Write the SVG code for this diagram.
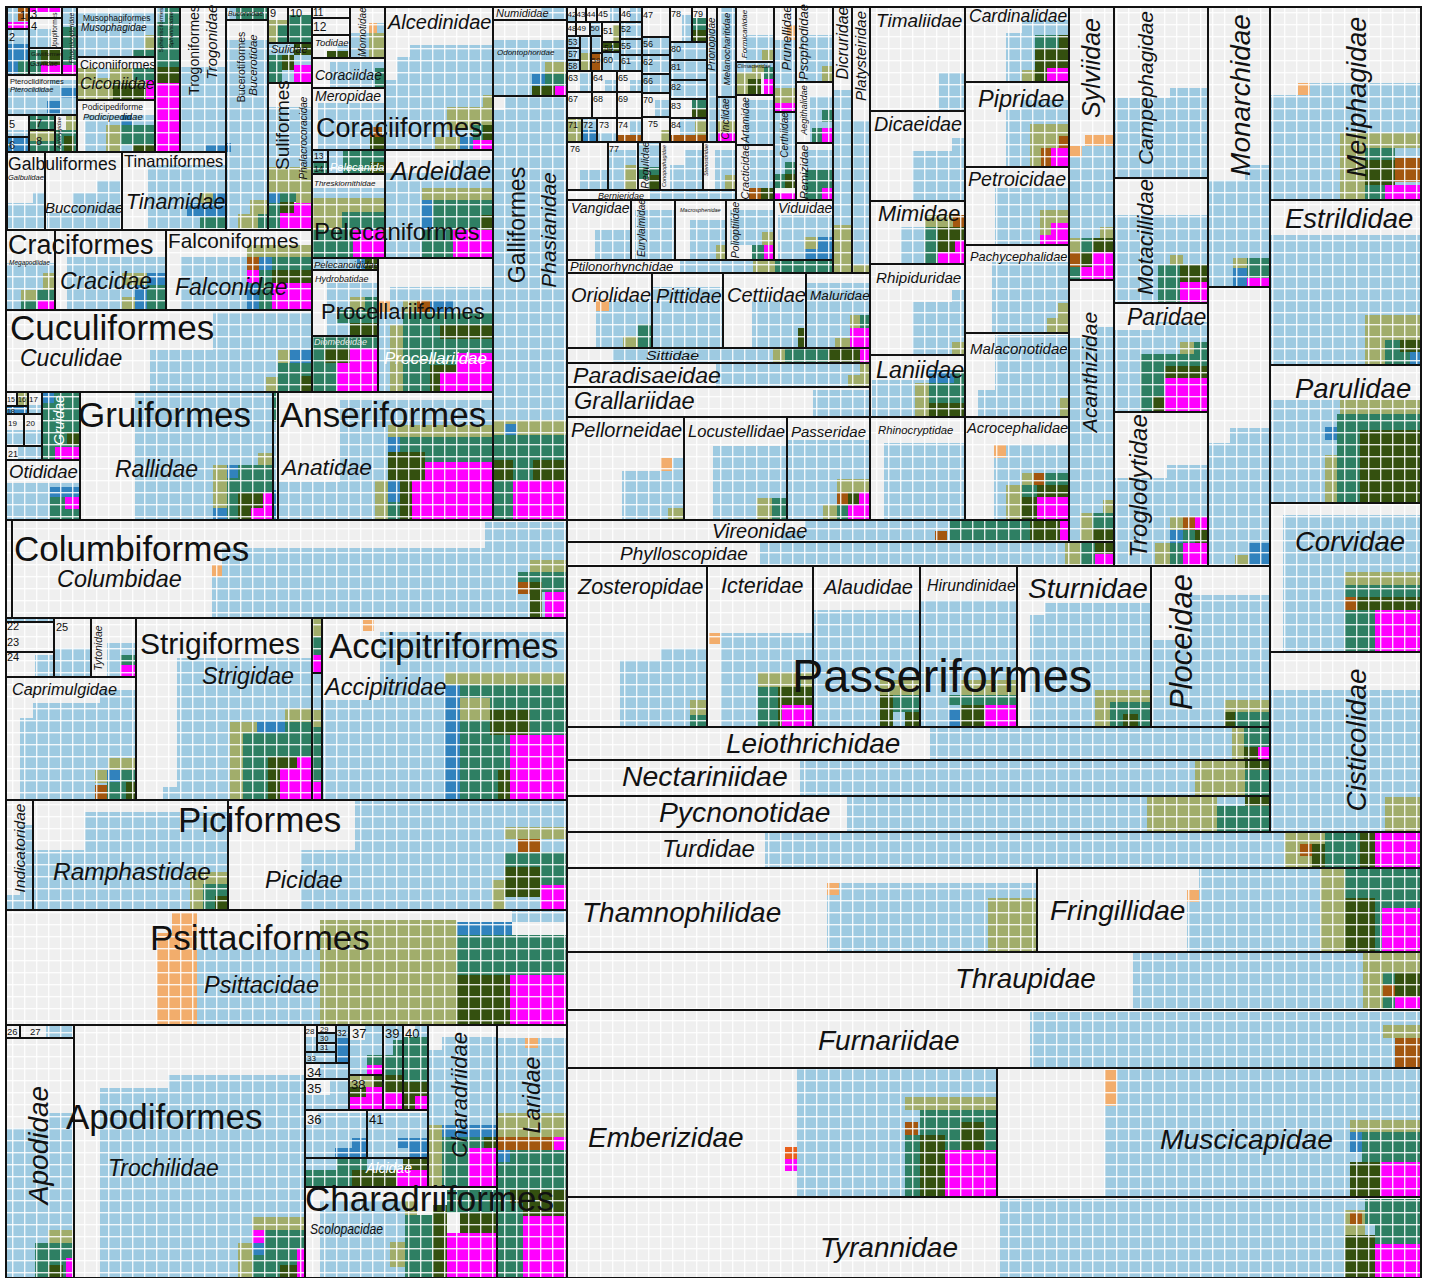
<svg xmlns="http://www.w3.org/2000/svg" width="1430" height="1278" viewBox="0 0 1430 1278">
<defs>
<pattern id="gr" width="12" height="12" patternUnits="userSpaceOnUse"><rect width="12" height="1.4" fill="#fff" opacity=".85"/><rect width="1.4" height="12" fill="#fff" opacity=".85"/></pattern>
</defs>
<style>
.bg{fill:#efefef}
.t{fill:url(#gr);stroke:#111;stroke-width:2}
.a{fill:#9ecae1}.n{fill:#a1ad6b}.v{fill:#2e7f63}.e{fill:#34500f}.c{fill:#ff00ff}.d{fill:#3182bd}.x{fill:#f2ad6c}.w{fill:#a3560f}
text{font-family:"Liberation Sans",Arial,sans-serif;fill:#111}
.i{font-style:italic}
.m{text-anchor:middle}
.wh{fill:#fff}
</style>
<rect x="0" y="0" width="1430" height="1278" fill="#fff"/>

<!-- ===== top-left cluster ===== -->
<g id="f1"><rect class="bg" x="7" y="7" width="22" height="22"/><rect class="a" x="7" y="7" width="22" height="15"/><rect class="w" x="18" y="8" width="11" height="13"/><rect class="c" x="7" y="22" width="22" height="7"/><rect class="t" x="7" y="7" width="22" height="22"/><text x="20" y="19" font-size="11">1</text></g>
<g id="f3"><rect class="bg" x="29" y="7" width="33" height="11"/><rect class="c" x="29" y="7" width="33" height="5"/><rect class="t" x="29" y="7" width="33" height="11"/><text x="31" y="18" font-size="11">3</text></g>
<g id="f4"><rect class="bg" x="29" y="18" width="33" height="30"/><rect class="a" x="29" y="29" width="22" height="19"/><rect class="t" x="29" y="18" width="33" height="30"/><text x="31" y="30" font-size="11">4</text><text transform="rotate(-90 57 31)" x="57" y="31" class="m" font-size="6.5">Upupiformes</text></g>
<g id="f2"><rect class="bg" x="7" y="29" width="22" height="46"/><rect class="a" x="7" y="29" width="22" height="15"/><rect class="d" x="7" y="44" width="22" height="16"/><rect class="d" x="7" y="60" width="11" height="15"/><rect class="v" x="18" y="60" width="11" height="15"/><rect class="t" x="7" y="29" width="22" height="46"/><text x="9" y="41" font-size="11">2</text></g>
<g id="gaviidae"><rect class="bg" x="29" y="48" width="33" height="27"/><rect class="v" x="29" y="50" width="12" height="25"/><rect class="e" x="41" y="50" width="21" height="15"/><rect class="c" x="41" y="65" width="21" height="10"/><rect class="t" x="29" y="48" width="33" height="27"/><text x="31" y="56" font-size="6">Gaviiformes</text><text x="30" y="66" font-size="7" class="i">Gaviidae</text></g>
<g id="phoenicopteridae"><rect class="bg" x="62" y="7" width="15" height="68"/><rect class="a" x="62" y="7" width="15" height="20"/><rect class="v" x="62" y="27" width="15" height="38"/><rect class="c" x="62" y="65" width="15" height="10"/><rect class="t" x="62" y="7" width="15" height="68"/><text transform="rotate(-90 74 38)" x="74" y="38" class="m i" font-size="6.5">Phoenicopteridae</text></g>
<g id="musophagidae"><rect class="bg" x="77" y="7" width="78" height="50"/><rect class="a" x="77" y="12" width="78" height="45"/><rect class="n" x="145" y="35" width="10" height="15"/><rect class="v" x="133" y="50" width="22" height="7"/><rect class="t" x="77" y="7" width="78" height="50"/><text x="83" y="21" font-size="8.5">Musophagiformes</text><text x="81" y="31" font-size="10" class="i">Musophagidae</text></g>
<g id="spheniscidae"><rect class="bg" x="155" y="7" width="25" height="145"/><rect class="a" x="155" y="7" width="10" height="15"/><rect class="v" x="165" y="7" width="15" height="15"/><rect class="v" x="155" y="22" width="25" height="45"/><rect class="e" x="155" y="67" width="25" height="16"/><rect class="c" x="155" y="83" width="25" height="69"/><rect class="t" x="155" y="7" width="25" height="145"/><text transform="rotate(-90 163 30)" x="163" y="30" class="m" font-size="6">Sphenisciformes</text><text transform="rotate(-90 173 30)" x="173" y="30" class="m i" font-size="6">Spheniscidae</text></g>
<g id="ciconiidae"><rect class="bg" x="77" y="57" width="78" height="43"/><rect class="n" x="77" y="68" width="78" height="32"/><rect class="a" x="96" y="68" width="14" height="10"/><rect class="v" x="133" y="68" width="22" height="12"/><rect class="e" x="113" y="83" width="33" height="17"/><rect class="c" x="146" y="80" width="9" height="20"/><rect class="t" x="77" y="57" width="78" height="43"/><text x="80" y="69" font-size="12.5">Ciconiiformes</text><text x="80" y="89" font-size="16" class="i">Ciconiidae</text></g>
<g id="pteroclididae"><rect class="bg" x="7" y="75" width="70" height="40"/><rect class="a" x="7" y="88" width="70" height="27"/><rect class="a" x="50" y="80" width="27" height="8"/><rect class="d" x="60" y="88" width="17" height="10"/><rect class="d" x="47" y="101" width="13" height="12"/><rect class="t" x="7" y="75" width="70" height="40"/><text x="10" y="84" font-size="7.5">Pteroclidiformes</text><text x="10" y="92" font-size="7.5" class="i">Pteroclididae</text></g>
<g id="podicipedidae"><rect class="bg" x="77" y="100" width="78" height="52"/><rect class="a" x="85" y="115" width="70" height="37"/><rect class="d" x="120" y="115" width="12" height="10"/><rect class="n" x="106" y="125" width="14" height="27"/><rect class="v" x="120" y="125" width="35" height="20"/><rect class="e" x="133" y="145" width="22" height="7"/><rect class="t" x="77" y="100" width="78" height="52"/><text x="82" y="110" font-size="8.5">Podicipediforme</text><text x="83" y="120" font-size="9.5" class="i">Podicipedidae</text></g>
<g id="f5"><rect class="bg" x="7" y="115" width="22" height="22"/><rect class="a" x="7" y="130" width="22" height="7"/><rect class="t" x="7" y="115" width="22" height="22"/><text x="9" y="128" font-size="11">5</text></g>
<g id="f6"><rect class="bg" x="7" y="137" width="22" height="15"/><rect class="d" x="7" y="137" width="22" height="15"/><rect class="t" x="7" y="137" width="22" height="15"/><text x="9" y="149" font-size="11">6</text></g>
<g id="f7"><rect class="bg" x="29" y="115" width="26" height="15"/><rect class="v" x="29" y="115" width="26" height="15"/><rect class="t" x="29" y="115" width="26" height="15"/><text x="36" y="127" font-size="11">7</text></g>
<g id="f8"><rect class="bg" x="29" y="130" width="26" height="22"/><rect class="n" x="29" y="130" width="26" height="11"/><rect class="v" x="29" y="141" width="26" height="11"/><rect class="t" x="29" y="130" width="26" height="22"/><text x="36" y="145" font-size="11">8</text></g>
<g id="apterygidae"><rect class="bg" x="55" y="115" width="22" height="37"/><rect class="n" x="66" y="115" width="11" height="15"/><rect class="v" x="55" y="130" width="22" height="22"/><rect class="e" x="64" y="136" width="10" height="16"/><rect class="t" x="55" y="115" width="22" height="37"/><text transform="rotate(-90 61 133)" x="61" y="133" class="m i" font-size="6">Apterygidae</text></g>
<g id="trogonidae"><rect class="bg" x="180" y="7" width="46" height="145"/><rect class="a" x="180" y="67" width="46" height="85"/><rect class="d" x="206" y="144" width="20" height="8"/><rect class="t" x="180" y="7" width="46" height="145"/><text transform="rotate(-90 199 50)" x="199" y="50" class="m" font-size="14">Trogoniformes</text><text transform="rotate(-90 217 42)" x="217" y="42" class="m i" font-size="15">Trogonidae</text></g>
<g id="galbulidae"><rect class="bg" x="7" y="152" width="38" height="78"/><rect class="a" x="7" y="203" width="38" height="27"/><rect class="a" x="33" y="192" width="12" height="11"/><rect class="t" x="7" y="152" width="38" height="78"/><text x="8" y="180" font-size="7.5" class="i">Galbulidae</text></g>
<g id="bucconidae"><rect class="bg" x="45" y="152" width="77" height="78"/><rect class="a" x="97" y="180" width="25" height="50"/><rect class="a" x="72" y="193" width="25" height="37"/><rect class="a" x="47" y="213" width="25" height="17"/><rect class="t" x="45" y="152" width="77" height="78"/><text x="45" y="213" font-size="15" class="i">Bucconidae</text></g>
<g id="tinamidae"><rect class="bg" x="122" y="152" width="104" height="78"/><rect class="a" x="148" y="165" width="78" height="65"/><rect class="n" x="200" y="192" width="13" height="11"/><rect class="d" x="187" y="203" width="26" height="14"/><rect class="d" x="213" y="192" width="13" height="25"/><rect class="v" x="200" y="217" width="26" height="13"/><rect class="t" x="122" y="152" width="104" height="78"/><text x="124" y="167" font-size="16.5">Tinamiformes</text><text x="126" y="209" font-size="21.3" class="i">Tinamidae</text></g>
<g id="bucorvidae"><rect class="bg" x="226" y="7" width="42" height="13"/><rect class="v" x="226" y="7" width="42" height="13"/><rect class="a" x="226" y="7" width="10" height="13"/><rect class="t" x="226" y="7" width="42" height="13"/><text x="228" y="16" font-size="7" class="i">Bucorvidae</text></g>
<g id="bucerotidae"><rect class="bg" x="226" y="20" width="42" height="210"/><rect class="a" x="226" y="40" width="42" height="190"/><rect class="d" x="226" y="143" width="5" height="9"/><rect class="n" x="250" y="200" width="18" height="30"/><rect class="n" x="238" y="214" width="12" height="16"/><rect class="v" x="258" y="214" width="10" height="16"/><rect class="t" x="226" y="20" width="42" height="210"/><text transform="rotate(-90 245 67)" x="245" y="67" class="m" font-size="10.5">Bucerotiformes</text><text transform="rotate(-90 257 65)" x="257" y="65" class="m i" font-size="11.5">Bucerotidae</text></g>
<g id="f9"><rect class="bg" x="268" y="7" width="20" height="36"/><rect class="n" x="268" y="20" width="20" height="23"/><rect class="v" x="278" y="25" width="10" height="18"/><rect class="t" x="268" y="7" width="20" height="36"/><text x="270" y="17" font-size="11">9</text></g>
<g id="f10"><rect class="bg" x="288" y="7" width="24" height="36"/><rect class="v" x="288" y="15" width="24" height="28"/><rect class="t" x="288" y="7" width="24" height="36"/><text x="290" y="17" font-size="11">10</text></g>
<g id="sulidae"><rect class="bg" x="268" y="43" width="44" height="40"/><rect class="a" x="268" y="43" width="26" height="12"/><rect class="e" x="294" y="43" width="18" height="12"/><rect class="v" x="268" y="55" width="14" height="28"/><rect class="e" x="282" y="55" width="12" height="15"/><rect class="a" x="294" y="55" width="18" height="10"/><rect class="c" x="294" y="65" width="18" height="18"/><rect class="a" x="282" y="70" width="12" height="13"/><rect class="t" x="268" y="43" width="44" height="40"/><text x="271" y="53" font-size="11" class="i">Sulidae</text></g>
<g id="phalacrocoracidae"><rect class="bg" x="268" y="83" width="44" height="147"/><rect class="a" x="268" y="107" width="44" height="60"/><rect class="n" x="268" y="167" width="44" height="25"/><rect class="d" x="268" y="192" width="12" height="11"/><rect class="v" x="280" y="192" width="16" height="10"/><rect class="n" x="296" y="192" width="16" height="11"/><rect class="v" x="268" y="203" width="12" height="27"/><rect class="e" x="280" y="202" width="14" height="11"/><rect class="c" x="294" y="203" width="18" height="27"/><rect class="c" x="280" y="213" width="14" height="17"/><rect class="t" x="268" y="83" width="44" height="147"/><text transform="rotate(-90 289 125)" x="289" y="125" class="m" font-size="19">Suliformes</text><text transform="rotate(-90 307 138)" x="307" y="138" class="m i" font-size="10">Phalacrocoracidae</text></g>
<g id="megapodiidae"><rect class="bg" x="6" y="230" width="49" height="80"/><rect class="a" x="6" y="263" width="49" height="47"/><rect class="n" x="43" y="273" width="12" height="17"/><rect class="n" x="21" y="290" width="16" height="10"/><rect class="v" x="37" y="290" width="18" height="10"/><rect class="v" x="21" y="300" width="16" height="10"/><rect class="c" x="38" y="300" width="17" height="10"/><rect class="t" x="6" y="230" width="49" height="80"/><text x="9" y="265" font-size="6.5" class="i">Megapodiidae</text></g>
<g id="cracidae"><rect class="bg" x="55" y="230" width="111" height="80"/><rect class="a" x="67" y="257" width="99" height="53"/><rect class="n" x="122" y="273" width="25" height="12"/><rect class="d" x="147" y="273" width="19" height="12"/><rect class="n" x="122" y="297" width="13" height="13"/><rect class="d" x="135" y="285" width="12" height="25"/><rect class="v" x="147" y="285" width="19" height="25"/><rect class="t" x="55" y="230" width="111" height="80"/><text x="60" y="289" font-size="23" class="i">Cracidae</text></g>
<g id="falconidae"><rect class="bg" x="166" y="230" width="146" height="80"/><rect class="a" x="180" y="257" width="132" height="53"/><rect class="n" x="247" y="245" width="65" height="12"/><rect class="w" x="247" y="257" width="12" height="13"/><rect class="d" x="259" y="257" width="13" height="13"/><rect class="v" x="272" y="257" width="40" height="13"/><rect class="c" x="247" y="270" width="12" height="13"/><rect class="v" x="259" y="270" width="13" height="13"/><rect class="e" x="272" y="270" width="40" height="13"/><rect class="d" x="247" y="283" width="12" height="27"/><rect class="v" x="259" y="283" width="13" height="27"/><rect class="c" x="272" y="283" width="40" height="27"/><rect class="t" x="166" y="230" width="146" height="80"/><text x="168" y="248" font-size="20.8">Falconiformes</text><text x="175" y="295" font-size="23" class="i">Falconidae</text></g>
<g id="cuculidae"><rect class="bg" x="6" y="310" width="306" height="82"/><rect class="a" x="213" y="312" width="99" height="38"/><rect class="a" x="150" y="350" width="162" height="42"/><rect class="n" x="278" y="350" width="12" height="13"/><rect class="d" x="290" y="350" width="22" height="13"/><rect class="v" x="278" y="363" width="34" height="29"/><rect class="n" x="266" y="377" width="12" height="15"/><rect class="e" x="300" y="376" width="12" height="16"/><rect class="t" x="6" y="310" width="306" height="82"/><text x="20" y="366" font-size="23" class="i">Cuculidae</text></g>

<!-- Coraciiformes -->
<g id="f11"><rect class="bg" x="312" y="7" width="38" height="11"/><rect class="t" x="312" y="7" width="38" height="11"/><text x="313" y="16" font-size="10">11</text></g>
<g id="f12"><rect class="bg" x="312" y="18" width="38" height="17"/><rect class="t" x="312" y="18" width="38" height="17"/><text x="313" y="31" font-size="12">12</text></g>
<g id="todidae"><rect class="bg" x="312" y="35" width="38" height="23"/><rect class="a" x="337" y="45" width="13" height="6"/><rect class="e" x="327" y="51" width="23" height="7"/><rect class="t" x="312" y="35" width="38" height="23"/><text x="315" y="46" font-size="9.5" class="i">Todidae</text></g>
<g id="momotidae"><rect class="bg" x="350" y="7" width="35" height="51"/><rect class="a" x="350" y="33" width="19" height="25"/><rect class="x" x="369" y="23" width="8" height="10"/><rect class="a" x="377" y="23" width="8" height="10"/><rect class="n" x="369" y="33" width="16" height="25"/><rect class="t" x="350" y="7" width="35" height="51"/><text transform="rotate(-90 366 32)" x="366" y="32" class="m i" font-size="10">Momotidae</text></g>
<g id="alcedinidae"><rect class="bg" x="385" y="7" width="108" height="143"/><rect class="a" x="410" y="45" width="83" height="105"/><rect class="a" x="397" y="57" width="13" height="93"/><rect class="a" x="385" y="80" width="12" height="70"/><rect class="n" x="483" y="95" width="10" height="12"/><rect class="n" x="447" y="107" width="46" height="23"/><rect class="v" x="473" y="125" width="10" height="15"/><rect class="e" x="483" y="125" width="10" height="15"/><rect class="n" x="435" y="137" width="25" height="13"/><rect class="d" x="460" y="137" width="13" height="13"/><rect class="c" x="473" y="140" width="20" height="10"/><rect class="t" x="385" y="7" width="108" height="143"/><text x="388" y="29" font-size="20" class="i">Alcedinidae</text></g>
<g id="coraciidae"><rect class="bg" x="312" y="58" width="73" height="30"/><rect class="a" x="330" y="62" width="55" height="26"/><rect class="v" x="375" y="68" width="10" height="20"/><rect class="t" x="312" y="58" width="73" height="30"/><text x="315" y="80" font-size="14" class="i">Coraciidae</text></g>
<g id="meropidae"><rect class="bg" x="312" y="88" width="73" height="62"/><rect class="a" x="318" y="103" width="67" height="47"/><rect class="w" x="370" y="127" width="12" height="10"/><rect class="e" x="370" y="137" width="15" height="13"/><rect class="t" x="312" y="88" width="73" height="62"/><text x="315" y="101" font-size="14" class="i">Meropidae</text></g>

<!-- Pelecaniformes -->
<g id="f13"><rect class="bg" x="312" y="150" width="16" height="12"/><rect class="a" x="312" y="150" width="16" height="12"/><rect class="t" x="312" y="150" width="16" height="12"/><text x="314" y="159" font-size="8.5">13</text></g>
<g id="f14"><rect class="bg" x="312" y="162" width="16" height="12"/><rect class="v" x="312" y="162" width="16" height="12"/><rect class="t" x="312" y="162" width="16" height="12"/><text x="314" y="172" font-size="8.5">14</text></g>
<g id="pelecanidae"><rect class="bg" x="328" y="150" width="57" height="24"/><rect class="a" x="328" y="150" width="15" height="24"/><rect class="v" x="343" y="150" width="42" height="24"/><rect class="e" x="370" y="162" width="15" height="12"/><rect class="t" x="328" y="150" width="57" height="24"/><text x="330" y="171" font-size="11" class="i wh">Pelecanidae</text></g>
<g id="threskiornithidae"><rect class="bg" x="312" y="174" width="73" height="84"/><rect class="a" x="312" y="188" width="73" height="10"/><rect class="n" x="312" y="198" width="73" height="14"/><rect class="n" x="312" y="212" width="30" height="18"/><rect class="v" x="342" y="212" width="43" height="18"/><rect class="v" x="312" y="230" width="41" height="28"/><rect class="c" x="353" y="230" width="32" height="28"/><rect class="t" x="312" y="174" width="73" height="84"/><text x="314" y="186" font-size="8" class="i">Threskiornithidae</text></g>
<g id="ardeidae"><rect class="bg" x="385" y="150" width="108" height="108"/><rect class="a" x="453" y="160" width="40" height="13"/><rect class="a" x="385" y="173" width="108" height="15"/><rect class="a" x="385" y="188" width="37" height="70"/><rect class="n" x="422" y="188" width="71" height="12"/><rect class="d" x="422" y="200" width="11" height="30"/><rect class="v" x="433" y="200" width="60" height="30"/><rect class="e" x="480" y="215" width="13" height="15"/><rect class="v" x="422" y="230" width="31" height="28"/><rect class="c" x="453" y="230" width="40" height="28"/><rect class="t" x="385" y="150" width="108" height="108"/><text x="391" y="180" font-size="25" class="i">Ardeidae</text></g>

<!-- Procellariiformes -->
<g id="pelecanoididae"><rect class="bg" x="312" y="258" width="66" height="12"/><rect class="a" x="312" y="258" width="45" height="12"/><rect class="d" x="357" y="258" width="8" height="12"/><rect class="e" x="365" y="258" width="13" height="12"/><rect class="t" x="312" y="258" width="66" height="12"/><text x="314" y="268" font-size="9.5" class="i">Pelecanoididae</text></g>
<g id="hydrobatidae"><rect class="bg" x="312" y="270" width="66" height="66"/><rect class="a" x="327" y="283" width="51" height="53"/><rect class="n" x="350" y="297" width="15" height="13"/><rect class="v" x="365" y="297" width="13" height="13"/><rect class="v" x="337" y="310" width="41" height="13"/><rect class="e" x="350" y="323" width="28" height="13"/><rect class="t" x="312" y="270" width="66" height="66"/><text x="315" y="282" font-size="9" class="i">Hydrobatidae</text></g>
<g id="diomedeidae"><rect class="bg" x="312" y="336" width="66" height="56"/><rect class="v" x="312" y="336" width="66" height="56"/><rect class="e" x="325" y="348" width="25" height="15"/><rect class="c" x="350" y="348" width="28" height="44"/><rect class="c" x="337" y="363" width="13" height="29"/><rect class="t" x="312" y="336" width="66" height="56"/><text x="314" y="345" font-size="9" class="i" style="fill:#e8e8e8">Diomedeidae</text></g>
<g id="procellariidae"><rect class="bg" x="378" y="258" width="115" height="134"/><rect class="a" x="390" y="287" width="103" height="13"/><rect class="x" x="378" y="300" width="12" height="12"/><rect class="a" x="390" y="300" width="13" height="12"/><rect class="n" x="403" y="300" width="14" height="12"/><rect class="w" x="417" y="300" width="13" height="12"/><rect class="d" x="430" y="300" width="23" height="12"/><rect class="a" x="453" y="300" width="40" height="12"/><rect class="a" x="378" y="312" width="12" height="80"/><rect class="a" x="390" y="312" width="13" height="13"/><rect class="n" x="390" y="325" width="13" height="67"/><rect class="v" x="403" y="312" width="90" height="41"/><rect class="e" x="440" y="325" width="53" height="14"/><rect class="v" x="403" y="353" width="54" height="39"/><rect class="e" x="430" y="365" width="27" height="27"/><rect class="c" x="457" y="353" width="36" height="39"/><rect class="c" x="440" y="372" width="17" height="20"/><rect class="t" x="378" y="258" width="115" height="134"/><text x="384" y="364" font-size="17" class="i wh">Procellariidae</text></g>

<!-- Gruiformes row -->
<g id="f15"><rect class="bg" x="6" y="392" width="11" height="14"/><rect class="t" x="6" y="392" width="11" height="14"/><text x="7" y="402" font-size="7">15</text></g>
<g id="f16"><rect class="bg" x="17" y="392" width="11" height="14"/><rect class="n" x="17" y="392" width="11" height="14"/><rect class="t" x="17" y="392" width="11" height="14"/><text x="18" y="402" font-size="7">16</text></g>
<g id="f17"><rect class="bg" x="28" y="392" width="14" height="22"/><rect class="a" x="28" y="405" width="14" height="9"/><rect class="t" x="28" y="392" width="14" height="22"/><text x="29" y="402" font-size="8">17</text></g>
<g id="f18"><rect class="bg" x="6" y="406" width="22" height="8"/><rect class="d" x="6" y="406" width="22" height="8"/><rect class="t" x="6" y="406" width="22" height="8"/><text x="7" y="413.5" font-size="7">18</text></g>
<g id="f19"><rect class="bg" x="6" y="414" width="18" height="32"/><rect class="a" x="6" y="430" width="18" height="16"/><rect class="t" x="6" y="414" width="18" height="32"/><text x="8" y="426" font-size="8">19</text></g>
<g id="f20"><rect class="bg" x="24" y="414" width="18" height="32"/><rect class="a" x="24" y="430" width="18" height="16"/><rect class="t" x="24" y="414" width="18" height="32"/><text x="26" y="426" font-size="8">20</text></g>
<g id="f21"><rect class="bg" x="6" y="446" width="36" height="14"/><rect class="a" x="18" y="446" width="24" height="14"/><rect class="t" x="6" y="446" width="36" height="14"/><text x="8" y="457" font-size="9">21</text></g>
<g id="gruidae"><rect class="bg" x="42" y="392" width="38" height="68"/><rect class="v" x="42" y="392" width="38" height="68"/><rect class="d" x="42" y="392" width="12" height="11"/><rect class="e" x="67" y="433" width="13" height="12"/><rect class="c" x="55" y="447" width="25" height="13"/><rect class="t" x="42" y="392" width="38" height="68"/><text transform="rotate(-90 64 420)" x="64" y="420" class="m i wh" font-size="14">Gruidae</text></g>
<g id="otididae"><rect class="bg" x="6" y="460" width="74" height="60"/><rect class="a" x="6" y="483" width="74" height="37"/><rect class="d" x="50" y="487" width="30" height="10"/><rect class="v" x="50" y="497" width="15" height="23"/><rect class="c" x="65" y="497" width="15" height="12"/><rect class="v" x="65" y="509" width="15" height="11"/><rect class="t" x="6" y="460" width="74" height="60"/><text x="9" y="478" font-size="18.5" class="i">Otididae</text></g>
<g id="rallidae"><rect class="bg" x="80" y="392" width="193" height="128"/><rect class="a" x="135" y="393" width="138" height="127"/><rect class="n" x="258" y="453" width="15" height="12"/><rect class="n" x="213" y="465" width="14" height="43"/><rect class="d" x="227" y="465" width="11" height="13"/><rect class="v" x="238" y="465" width="35" height="28"/><rect class="v" x="227" y="478" width="11" height="30"/><rect class="e" x="238" y="493" width="25" height="15"/><rect class="c" x="263" y="493" width="10" height="15"/><rect class="d" x="213" y="508" width="14" height="12"/><rect class="v" x="227" y="508" width="11" height="12"/><rect class="e" x="238" y="508" width="13" height="12"/><rect class="c" x="251" y="508" width="22" height="12"/><rect class="t" x="80" y="392" width="193" height="128"/><text x="115" y="477" font-size="23" class="i">Rallidae</text></g>
<g id="gru-thin"><rect class="bg" x="273" y="392" width="5" height="128"/><rect class="v" x="273" y="392" width="5" height="30"/><rect class="a" x="273" y="422" width="5" height="68"/><rect class="d" x="273" y="490" width="5" height="30"/><rect class="t" x="273" y="392" width="5" height="128"/></g>
<g id="anatidae"><rect class="bg" x="278" y="392" width="215" height="128"/><rect class="a" x="340" y="400" width="153" height="120"/><rect class="a" x="278" y="482" width="62" height="38"/><rect class="n" x="388" y="425" width="105" height="12"/><rect class="d" x="388" y="437" width="12" height="15"/><rect class="v" x="400" y="437" width="93" height="15"/><rect class="e" x="388" y="452" width="37" height="28"/><rect class="v" x="425" y="452" width="68" height="10"/><rect class="c" x="425" y="462" width="68" height="58"/><rect class="n" x="375" y="480" width="13" height="40"/><rect class="d" x="388" y="480" width="12" height="22"/><rect class="e" x="400" y="480" width="12" height="40"/><rect class="c" x="412" y="480" width="13" height="40"/><rect class="v" x="388" y="502" width="12" height="18"/><rect class="t" x="278" y="392" width="215" height="128"/><text x="282" y="475" font-size="22.8" class="i">Anatidae</text></g>

<!-- Galliformes -->
<g id="numididae"><rect class="bg" x="493" y="7" width="74" height="13"/><rect class="a" x="540" y="7" width="27" height="13"/><rect class="t" x="493" y="7" width="74" height="13"/><text x="496" y="17" font-size="11" class="i">Numididae</text></g>
<g id="odontophoridae"><rect class="bg" x="493" y="20" width="74" height="76"/><rect class="a" x="493" y="40" width="74" height="56"/><rect class="n" x="545" y="62" width="22" height="12"/><rect class="d" x="532" y="74" width="13" height="12"/><rect class="v" x="545" y="74" width="22" height="12"/><rect class="e" x="532" y="86" width="23" height="10"/><rect class="c" x="555" y="86" width="12" height="10"/><rect class="t" x="493" y="20" width="74" height="76"/><text x="497" y="55" font-size="8" class="i">Odontophoridae</text></g>
<g id="phasianidae"><rect class="bg" x="493" y="96" width="74" height="424"/><rect class="a" x="505" y="96" width="62" height="14"/><rect class="a" x="493" y="110" width="74" height="310"/><rect class="n" x="493" y="420" width="74" height="15"/><rect class="d" x="505" y="424" width="12" height="11"/><rect class="v" x="493" y="435" width="74" height="25"/><rect class="e" x="493" y="460" width="20" height="20"/><rect class="v" x="513" y="460" width="20" height="20"/><rect class="e" x="533" y="460" width="34" height="20"/><rect class="v" x="493" y="480" width="20" height="40"/><rect class="c" x="513" y="480" width="54" height="40"/><rect class="t" x="493" y="96" width="74" height="424"/><text transform="rotate(-90 556 230)" x="556" y="230" class="m i" font-size="21">Phasianidae</text></g>

<!-- Columbiformes -->
<g id="colu-thin"><rect class="bg" x="6" y="520" width="6" height="98"/><rect class="t" x="6" y="520" width="6" height="98"/></g>
<g id="columbidae"><rect class="bg" x="12" y="520" width="555" height="98"/><rect class="a" x="485" y="522" width="82" height="26"/><rect class="a" x="222" y="548" width="345" height="70"/><rect class="x" x="212" y="565" width="10" height="12"/><rect class="a" x="212" y="577" width="10" height="41"/><rect class="n" x="530" y="560" width="37" height="12"/><rect class="v" x="518" y="572" width="49" height="10"/><rect class="w" x="518" y="582" width="12" height="12"/><rect class="e" x="530" y="582" width="12" height="36"/><rect class="v" x="542" y="582" width="25" height="10"/><rect class="c" x="545" y="592" width="22" height="26"/><rect class="t" x="12" y="520" width="555" height="98"/><text x="57" y="587" font-size="23.4" class="i">Columbidae</text></g>

<!-- Caprimulgiformes etc -->
<g id="f22"><rect class="bg" x="6" y="618" width="48" height="4"/><rect class="a" x="6" y="618" width="48" height="4"/><rect class="t" x="6" y="618" width="48" height="4"/></g>
<g id="f23"><rect class="bg" x="6" y="622" width="48" height="30"/><rect class="t" x="6" y="622" width="48" height="30"/><text x="7" y="630" font-size="11">22</text><text x="7" y="646" font-size="11">23</text></g>
<g id="f24"><rect class="bg" x="6" y="652" width="48" height="25"/><rect class="a" x="35" y="655" width="19" height="22"/><rect class="t" x="6" y="652" width="48" height="25"/><text x="7" y="661" font-size="11">24</text></g>
<g id="f25"><rect class="bg" x="54" y="618" width="37" height="59"/><rect class="a" x="54" y="648" width="37" height="29"/><rect class="t" x="54" y="618" width="37" height="59"/><text x="56" y="631" font-size="11">25</text></g>
<g id="tytonidae"><rect class="bg" x="91" y="618" width="45" height="59"/><rect class="a" x="107" y="643" width="29" height="34"/><rect class="v" x="120" y="655" width="16" height="10"/><rect class="c" x="120" y="665" width="16" height="12"/><rect class="t" x="91" y="618" width="45" height="59"/><text transform="rotate(-90 102 648)" x="102" y="648" class="m i" font-size="10.5">Tytonidae</text></g>
<g id="caprimulgidae"><rect class="bg" x="6" y="677" width="130" height="123"/><rect class="a" x="100" y="690" width="36" height="13"/><rect class="a" x="33" y="703" width="103" height="97"/><rect class="a" x="20" y="718" width="13" height="82"/><rect class="n" x="108" y="758" width="28" height="12"/><rect class="n" x="95" y="770" width="12" height="13"/><rect class="d" x="107" y="770" width="13" height="12"/><rect class="v" x="120" y="770" width="16" height="12"/><rect class="w" x="95" y="785" width="12" height="15"/><rect class="v" x="107" y="782" width="19" height="18"/><rect class="e" x="126" y="782" width="10" height="18"/><rect class="t" x="6" y="677" width="130" height="123"/><text x="12" y="695" font-size="16.3" class="i">Caprimulgidae</text></g>
<g id="strigidae"><rect class="bg" x="136" y="618" width="176" height="182"/><rect class="a" x="177" y="658" width="135" height="142"/><rect class="a" x="163" y="787" width="14" height="13"/><rect class="n" x="285" y="708" width="27" height="14"/><rect class="n" x="230" y="722" width="13" height="78"/><rect class="n" x="243" y="722" width="14" height="11"/><rect class="d" x="257" y="722" width="28" height="11"/><rect class="v" x="285" y="722" width="27" height="35"/><rect class="v" x="243" y="733" width="42" height="67"/><rect class="e" x="268" y="757" width="12" height="43"/><rect class="e" x="280" y="757" width="17" height="11"/><rect class="c" x="297" y="757" width="15" height="11"/><rect class="c" x="280" y="768" width="32" height="32"/><rect class="t" x="136" y="618" width="176" height="182"/><text x="202" y="684" font-size="23.3" class="i">Strigidae</text></g>
<g id="acci-thin1"><rect class="bg" x="312" y="618" width="10" height="55"/><rect class="n" x="312" y="618" width="10" height="19"/><rect class="v" x="312" y="637" width="10" height="18"/><rect class="c" x="312" y="655" width="10" height="18"/><rect class="t" x="312" y="618" width="10" height="55"/></g>
<g id="acci-thin2"><rect class="bg" x="312" y="673" width="10" height="127"/><rect class="a" x="312" y="673" width="10" height="37"/><rect class="n" x="312" y="710" width="10" height="17"/><rect class="v" x="312" y="727" width="10" height="55"/><rect class="c" x="312" y="782" width="10" height="18"/><rect class="t" x="312" y="673" width="10" height="127"/></g>
<g id="accipitridae"><rect class="bg" x="322" y="618" width="245" height="182"/><rect class="x" x="363" y="620" width="11" height="11"/><rect class="a" x="380" y="632" width="187" height="68"/><rect class="a" x="322" y="700" width="123" height="100"/><rect class="n" x="445" y="672" width="122" height="13"/><rect class="d" x="445" y="685" width="15" height="115"/><rect class="v" x="460" y="685" width="107" height="50"/><rect class="n" x="460" y="698" width="30" height="22"/><rect class="e" x="490" y="710" width="40" height="25"/><rect class="v" x="460" y="735" width="50" height="65"/><rect class="e" x="498" y="770" width="12" height="30"/><rect class="c" x="510" y="735" width="57" height="65"/><rect class="t" x="322" y="618" width="245" height="182"/><text x="325" y="695" font-size="23.5" class="i">Accipitridae</text></g>

<!-- Piciformes -->
<g id="indicatoridae"><rect class="bg" x="6" y="800" width="27" height="110"/><rect class="a" x="20" y="825" width="13" height="85"/><rect class="a" x="6" y="895" width="14" height="15"/><rect class="t" x="6" y="800" width="27" height="110"/><text transform="rotate(-90 25 848)" x="25" y="848" class="m i" font-size="15.5">Indicatoridae</text></g>
<g id="ramphastidae"><rect class="bg" x="33" y="800" width="195" height="110"/><rect class="a" x="85" y="812" width="143" height="98"/><rect class="a" x="33" y="850" width="52" height="60"/><rect class="n" x="190" y="872" width="38" height="12"/><rect class="v" x="203" y="884" width="25" height="26"/><rect class="e" x="215" y="896" width="13" height="14"/><rect class="n" x="190" y="884" width="13" height="26"/><rect class="t" x="33" y="800" width="195" height="110"/><text x="53" y="880" font-size="24.5" class="i">Ramphastidae</text></g>
<g id="picidae"><rect class="bg" x="228" y="800" width="339" height="110"/><rect class="a" x="355" y="800" width="212" height="110"/><rect class="a" x="300" y="850" width="55" height="60"/><rect class="n" x="505" y="827" width="62" height="12"/><rect class="w" x="518" y="839" width="22" height="13"/><rect class="v" x="505" y="852" width="62" height="15"/><rect class="e" x="505" y="867" width="35" height="30"/><rect class="v" x="540" y="867" width="27" height="18"/><rect class="c" x="540" y="885" width="27" height="25"/><rect class="n" x="492" y="880" width="13" height="30"/><rect class="t" x="228" y="800" width="339" height="110"/><text x="265" y="888" font-size="23.7" class="i">Picidae</text></g>

<!-- Psittaciformes -->
<g id="psittacidae"><rect class="bg" x="6" y="910" width="561" height="115"/><rect class="x" x="172" y="913" width="25" height="20"/><rect class="x" x="157" y="933" width="40" height="92"/><rect class="a" x="197" y="948" width="123" height="77"/><rect class="n" x="320" y="920" width="137" height="105"/><rect class="d" x="457" y="922" width="55" height="13"/><rect class="a" x="512" y="911" width="55" height="11"/><rect class="v" x="457" y="935" width="110" height="40"/><rect class="e" x="457" y="975" width="53" height="50"/><rect class="c" x="510" y="975" width="57" height="50"/><rect class="t" x="6" y="910" width="561" height="115"/><text x="204" y="993" font-size="23.5" class="i">Psittacidae</text></g>

<!-- Apodiformes -->
<g id="f26"><rect class="bg" x="6" y="1025" width="14" height="13"/><rect class="t" x="6" y="1025" width="14" height="13"/><text x="7" y="1035" font-size="9.5">26</text></g>
<g id="f27"><rect class="bg" x="20" y="1025" width="54" height="13"/><rect class="a" x="46" y="1025" width="28" height="13"/><rect class="t" x="20" y="1025" width="54" height="13"/><text x="30" y="1035" font-size="9.5">27</text></g>
<g id="apodidae"><rect class="bg" x="6" y="1038" width="68" height="240"/><rect class="a" x="48" y="1113" width="26" height="15"/><rect class="a" x="6" y="1128" width="68" height="150"/><rect class="n" x="48" y="1230" width="26" height="13"/><rect class="v" x="35" y="1243" width="39" height="35"/><rect class="e" x="48" y="1265" width="15" height="13"/><rect class="c" x="66" y="1258" width="8" height="20"/><rect class="t" x="6" y="1038" width="68" height="240"/><text transform="rotate(-90 48 1145)" x="48" y="1145" class="m i" font-size="28">Apodidae</text></g>
<g id="trochilidae"><rect class="bg" x="74" y="1025" width="231" height="253"/><rect class="a" x="168" y="1075" width="137" height="13"/><rect class="a" x="100" y="1088" width="205" height="190"/><rect class="n" x="252" y="1217" width="53" height="13"/><rect class="c" x="252" y="1230" width="13" height="13"/><rect class="v" x="265" y="1230" width="40" height="13"/><rect class="n" x="238" y="1243" width="14" height="35"/><rect class="d" x="252" y="1243" width="13" height="12"/><rect class="v" x="265" y="1243" width="40" height="12"/><rect class="v" x="252" y="1255" width="45" height="23"/><rect class="e" x="280" y="1265" width="17" height="13"/><rect class="c" x="297" y="1248" width="8" height="30"/><rect class="t" x="74" y="1025" width="231" height="253"/><text x="108" y="1176" font-size="23" class="i">Trochilidae</text></g>

<!-- Charadriiformes -->
<g id="f28"><rect class="bg" x="305" y="1025" width="12" height="27"/><rect class="a" x="305" y="1037" width="12" height="15"/><rect class="t" x="305" y="1025" width="12" height="27"/><text x="305.5" y="1034" font-size="8">28</text></g>
<g id="f29"><rect class="bg" x="317" y="1025" width="19" height="8"/><rect class="t" x="317" y="1025" width="19" height="8"/><text x="320" y="1032" font-size="7.5">29</text></g>
<g id="f30"><rect class="bg" x="317" y="1033" width="19" height="10"/><rect class="a" x="317" y="1033" width="19" height="10"/><rect class="t" x="317" y="1033" width="19" height="10"/><text x="320" y="1041" font-size="7.5">30</text></g>
<g id="f31"><rect class="bg" x="317" y="1043" width="19" height="9"/><rect class="a" x="317" y="1043" width="19" height="9"/><rect class="t" x="317" y="1043" width="19" height="9"/><text x="320" y="1050" font-size="7.5">31</text></g>
<g id="f33"><rect class="bg" x="305" y="1052" width="31" height="11"/><rect class="a" x="305" y="1052" width="31" height="11"/><rect class="t" x="305" y="1052" width="31" height="11"/><text x="307" y="1061" font-size="8">33</text></g>
<g id="f32"><rect class="bg" x="336" y="1025" width="13" height="38"/><rect class="a" x="336" y="1025" width="13" height="13"/><rect class="d" x="336" y="1038" width="13" height="25"/><rect class="t" x="336" y="1025" width="13" height="38"/><text x="337" y="1036" font-size="8.5">32</text></g>
<g id="f37"><rect class="bg" x="349" y="1025" width="34" height="50"/><rect class="a" x="349" y="1040" width="34" height="35"/><rect class="a" x="365" y="1025" width="18" height="15"/><rect class="v" x="367" y="1055" width="16" height="10"/><rect class="c" x="367" y="1065" width="16" height="10"/><rect class="t" x="349" y="1025" width="34" height="50"/><text x="352" y="1038" font-size="13">37</text></g>
<g id="f34"><rect class="bg" x="305" y="1063" width="44" height="16"/><rect class="a" x="320" y="1063" width="29" height="16"/><rect class="t" x="305" y="1063" width="44" height="16"/><text x="307" y="1077" font-size="13">34</text></g>
<g id="f35"><rect class="bg" x="305" y="1079" width="44" height="31"/><rect class="a" x="305" y="1095" width="44" height="15"/><rect class="a" x="330" y="1079" width="19" height="16"/><rect class="t" x="305" y="1079" width="44" height="31"/><text x="307" y="1093" font-size="13">35</text></g>
<g id="f38"><rect class="bg" x="349" y="1075" width="34" height="35"/><rect class="n" x="349" y="1075" width="25" height="12"/><rect class="e" x="374" y="1075" width="9" height="12"/><rect class="e" x="349" y="1087" width="17" height="10"/><rect class="c" x="366" y="1087" width="17" height="23"/><rect class="c" x="349" y="1097" width="17" height="13"/><rect class="t" x="349" y="1075" width="34" height="35"/><text x="351" y="1089" font-size="13">38</text></g>
<g id="f39"><rect class="bg" x="383" y="1025" width="20" height="85"/><rect class="a" x="383" y="1025" width="20" height="30"/><rect class="v" x="393" y="1040" width="10" height="15"/><rect class="v" x="383" y="1055" width="20" height="20"/><rect class="e" x="383" y="1075" width="20" height="18"/><rect class="c" x="383" y="1093" width="20" height="17"/><rect class="t" x="383" y="1025" width="20" height="85"/><text x="385" y="1038" font-size="13">39</text></g>
<g id="f40"><rect class="bg" x="403" y="1025" width="25" height="85"/><rect class="a" x="415" y="1025" width="13" height="12"/><rect class="v" x="403" y="1037" width="25" height="45"/><rect class="e" x="403" y="1082" width="25" height="14"/><rect class="e" x="403" y="1096" width="12" height="14"/><rect class="c" x="415" y="1096" width="13" height="14"/><rect class="t" x="403" y="1025" width="25" height="85"/><text x="405" y="1038" font-size="13">40</text></g>
<g id="f36"><rect class="bg" x="305" y="1110" width="62" height="48"/><rect class="a" x="318" y="1113" width="49" height="45"/><rect class="a" x="305" y="1125" width="13" height="33"/><rect class="d" x="352" y="1138" width="15" height="10"/><rect class="d" x="335" y="1148" width="32" height="10"/><rect class="t" x="305" y="1110" width="62" height="48"/><text x="307" y="1124" font-size="13">36</text></g>
<g id="f41"><rect class="bg" x="367" y="1110" width="61" height="48"/><rect class="a" x="367" y="1113" width="61" height="45"/><rect class="d" x="398" y="1138" width="30" height="10"/><rect class="d" x="408" y="1148" width="20" height="10"/><rect class="t" x="367" y="1110" width="61" height="48"/><text x="369" y="1124" font-size="13">41</text></g>
<g id="alcidae"><rect class="bg" x="305" y="1158" width="123" height="29"/><rect class="a" x="305" y="1158" width="32" height="12"/><rect class="v" x="337" y="1158" width="30" height="12"/><rect class="a" x="367" y="1158" width="36" height="12"/><rect class="e" x="403" y="1158" width="25" height="12"/><rect class="v" x="305" y="1170" width="47" height="17"/><rect class="e" x="352" y="1170" width="45" height="17"/><rect class="c" x="397" y="1170" width="31" height="17"/><rect class="t" x="305" y="1158" width="123" height="29"/><text x="366" y="1173" font-size="14" class="i wh">Alcidae</text></g>
<g id="charadriidae"><rect class="bg" x="428" y="1025" width="69" height="162"/><rect class="a" x="442" y="1037" width="55" height="88"/><rect class="a" x="428" y="1050" width="14" height="75"/><rect class="n" x="428" y="1125" width="14" height="62"/><rect class="d" x="442" y="1125" width="55" height="12"/><rect class="v" x="442" y="1137" width="42" height="11"/><rect class="e" x="484" y="1137" width="13" height="11"/><rect class="v" x="442" y="1148" width="26" height="39"/><rect class="c" x="468" y="1148" width="29" height="39"/><rect class="t" x="428" y="1025" width="69" height="162"/><text transform="rotate(-90 467 1095)" x="467" y="1095" class="m i" font-size="22">Charadriidae</text></g>
<g id="laridae"><rect class="bg" x="497" y="1025" width="70" height="253"/><rect class="a" x="497" y="1038" width="70" height="75"/><rect class="x" x="525" y="1038" width="13" height="10"/><rect class="n" x="497" y="1113" width="70" height="24"/><rect class="w" x="497" y="1137" width="57" height="13"/><rect class="c" x="554" y="1137" width="13" height="13"/><rect class="d" x="497" y="1150" width="13" height="12"/><rect class="v" x="510" y="1150" width="57" height="40"/><rect class="v" x="497" y="1162" width="13" height="116"/><rect class="e" x="510" y="1190" width="57" height="13"/><rect class="v" x="510" y="1203" width="13" height="75"/><rect class="e" x="523" y="1203" width="44" height="13"/><rect class="c" x="523" y="1216" width="44" height="62"/><rect class="t" x="497" y="1025" width="70" height="253"/><text transform="rotate(-90 540 1095)" x="540" y="1095" class="m i" font-size="23">Laridae</text></g>
<g id="scolopacidae"><rect class="bg" x="305" y="1187" width="192" height="91"/><rect class="a" x="320" y="1200" width="85" height="78"/><rect class="n" x="390" y="1242" width="15" height="25"/><rect class="n" x="405" y="1200" width="12" height="15"/><rect class="v" x="405" y="1215" width="28" height="63"/><rect class="e" x="433" y="1205" width="14" height="73"/><rect class="v" x="447" y="1190" width="50" height="23"/><rect class="e" x="460" y="1213" width="37" height="20"/><rect class="c" x="447" y="1233" width="50" height="45"/><rect class="t" x="305" y="1187" width="192" height="91"/><text x="310" y="1234" font-size="15" class="i" textLength="73" lengthAdjust="spacingAndGlyphs">Scolopacidae</text></g>

<!-- ===== Passeriformes ===== -->
<g id="p42"><rect class="bg" x="567" y="7" width="9" height="15"/><rect class="a" x="567" y="16" width="9" height="6"/><rect class="t" x="567" y="7" width="9" height="15"/><text x="567.5" y="17" font-size="8">42</text></g>
<g id="p43"><rect class="bg" x="576" y="7" width="10" height="15"/><rect class="t" x="576" y="7" width="10" height="15"/><text x="576.5" y="17" font-size="8">43</text></g>
<g id="p44"><rect class="bg" x="586" y="7" width="11" height="15"/><rect class="t" x="586" y="7" width="11" height="15"/><text x="586.5" y="17" font-size="8">44</text></g>
<g id="p45"><rect class="bg" x="597" y="7" width="23" height="15"/><rect class="a" x="610" y="7" width="10" height="15"/><rect class="t" x="597" y="7" width="23" height="15"/><text x="598" y="17" font-size="9">45</text></g>
<g id="p46"><rect class="bg" x="620" y="7" width="22" height="15"/><rect class="a" x="630" y="7" width="12" height="15"/><rect class="t" x="620" y="7" width="22" height="15"/><text x="621" y="17" font-size="9">46</text></g>
<g id="p47"><rect class="bg" x="642" y="7" width="28" height="30"/><rect class="t" x="642" y="7" width="28" height="30"/><text x="643" y="18" font-size="9">47</text></g>
<g id="p48"><rect class="bg" x="567" y="22" width="9" height="14"/><rect class="t" x="567" y="22" width="9" height="14"/><text x="567.5" y="31" font-size="8">48</text></g>
<g id="p49"><rect class="bg" x="576" y="22" width="14" height="14"/><rect class="t" x="576" y="22" width="14" height="14"/><text x="577" y="31" font-size="8">49</text></g>
<g id="p50"><rect class="bg" x="590" y="22" width="12" height="14"/><rect class="a" x="590" y="22" width="12" height="14"/><rect class="t" x="590" y="22" width="12" height="14"/><text x="590.5" y="31" font-size="8">50</text></g>
<g id="p51"><rect class="bg" x="602" y="22" width="18" height="20"/><rect class="n" x="612" y="25" width="8" height="17"/><rect class="t" x="602" y="22" width="18" height="20"/><text x="603" y="34" font-size="9">51</text></g>
<g id="p52"><rect class="bg" x="620" y="22" width="22" height="17"/><rect class="a" x="620" y="22" width="22" height="17"/><rect class="t" x="620" y="22" width="22" height="17"/><text x="621" y="32" font-size="9">52</text></g>
<g id="p53"><rect class="bg" x="567" y="36" width="13" height="12"/><rect class="a" x="567" y="36" width="13" height="12"/><rect class="t" x="567" y="36" width="13" height="12"/><text x="568" y="45" font-size="8.5">53</text></g>
<g id="p-u1"><rect class="bg" x="580" y="36" width="11" height="35"/><rect class="a" x="580" y="36" width="11" height="17"/><rect class="n" x="580" y="53" width="11" height="18"/><rect class="t" x="580" y="36" width="11" height="35"/></g>
<g id="p-u2"><rect class="bg" x="591" y="36" width="11" height="17"/><rect class="a" x="591" y="36" width="11" height="17"/><rect class="t" x="591" y="36" width="11" height="17"/></g>
<g id="p57"><rect class="bg" x="567" y="48" width="13" height="12"/><rect class="a" x="567" y="48" width="13" height="12"/><rect class="t" x="567" y="48" width="13" height="12"/><text x="568" y="57" font-size="8.5">57</text></g>
<g id="p58"><rect class="bg" x="567" y="60" width="13" height="11"/><rect class="a" x="567" y="60" width="13" height="11"/><rect class="t" x="567" y="60" width="13" height="11"/><text x="568" y="69" font-size="8.5">58</text></g>
<g id="p54"><rect class="bg" x="602" y="42" width="18" height="10"/><rect class="e" x="602" y="42" width="18" height="10"/><rect class="t" x="602" y="42" width="18" height="10"/><text x="604" y="50.5" font-size="8.5">54</text></g>
<g id="p59"><rect class="bg" x="591" y="53" width="11" height="18"/><rect class="w" x="591" y="53" width="11" height="18"/><rect class="t" x="591" y="53" width="11" height="18"/><text x="591.5" y="63" font-size="8">59</text></g>
<g id="p60"><rect class="bg" x="602" y="52" width="18" height="19"/><rect class="a" x="602" y="52" width="18" height="19"/><rect class="t" x="602" y="52" width="18" height="19"/><text x="603" y="63" font-size="9">60</text></g>
<g id="p55"><rect class="bg" x="620" y="39" width="22" height="16"/><rect class="a" x="620" y="39" width="22" height="16"/><rect class="t" x="620" y="39" width="22" height="16"/><text x="621" y="49" font-size="9">55</text></g>
<g id="p61"><rect class="bg" x="620" y="55" width="22" height="16"/><rect class="a" x="620" y="55" width="22" height="16"/><rect class="t" x="620" y="55" width="22" height="16"/><text x="621" y="64" font-size="9">61</text></g>
<g id="p56"><rect class="bg" x="642" y="37" width="28" height="18"/><rect class="a" x="642" y="37" width="28" height="18"/><rect class="t" x="642" y="37" width="28" height="18"/><text x="643" y="47" font-size="9">56</text></g>
<g id="p62"><rect class="bg" x="642" y="55" width="28" height="19"/><rect class="a" x="642" y="55" width="28" height="19"/><rect class="t" x="642" y="55" width="28" height="19"/><text x="643" y="65" font-size="9">62</text></g>
<g id="p63"><rect class="bg" x="567" y="71" width="25" height="21"/><rect class="a" x="580" y="71" width="12" height="21"/><rect class="t" x="567" y="71" width="25" height="21"/><text x="568" y="81" font-size="9">63</text></g>
<g id="p64"><rect class="bg" x="592" y="71" width="25" height="21"/><rect class="a" x="605" y="80" width="12" height="12"/><rect class="t" x="592" y="71" width="25" height="21"/><text x="593" y="81" font-size="9">64</text></g>
<g id="p65"><rect class="bg" x="617" y="71" width="25" height="21"/><rect class="a" x="630" y="80" width="12" height="12"/><rect class="t" x="617" y="71" width="25" height="21"/><text x="618" y="81" font-size="9">65</text></g>
<g id="p66"><rect class="bg" x="642" y="74" width="28" height="19"/><rect class="a" x="642" y="74" width="28" height="19"/><rect class="t" x="642" y="74" width="28" height="19"/><text x="643" y="84" font-size="9">66</text></g>
<g id="p67"><rect class="bg" x="567" y="92" width="25" height="26"/><rect class="t" x="567" y="92" width="25" height="26"/><text x="568" y="102" font-size="9">67</text></g>
<g id="p68"><rect class="bg" x="592" y="92" width="25" height="26"/><rect class="t" x="592" y="92" width="25" height="26"/><text x="593" y="102" font-size="9">68</text></g>
<g id="p69"><rect class="bg" x="617" y="92" width="25" height="26"/><rect class="t" x="617" y="92" width="25" height="26"/><text x="618" y="102" font-size="9">69</text></g>
<g id="p70"><rect class="bg" x="642" y="93" width="28" height="24"/><rect class="a" x="655" y="100" width="15" height="17"/><rect class="t" x="642" y="93" width="28" height="24"/><text x="643" y="103" font-size="9">70</text></g>
<g id="p71"><rect class="bg" x="567" y="118" width="15" height="24"/><rect class="n" x="567" y="118" width="15" height="24"/><rect class="t" x="567" y="118" width="15" height="24"/><text x="568" y="128" font-size="9">71</text></g>
<g id="p72"><rect class="bg" x="582" y="118" width="15" height="24"/><rect class="a" x="582" y="118" width="15" height="12"/><rect class="d" x="582" y="130" width="15" height="12"/><rect class="t" x="582" y="118" width="15" height="24"/><text x="583" y="128" font-size="9">72</text></g>
<g id="p73"><rect class="bg" x="597" y="118" width="20" height="24"/><rect class="a" x="597" y="133" width="20" height="9"/><rect class="t" x="597" y="118" width="20" height="24"/><text x="599" y="128" font-size="9">73</text></g>
<g id="p74"><rect class="bg" x="617" y="118" width="25" height="24"/><rect class="a" x="630" y="120" width="12" height="15"/><rect class="w" x="617" y="135" width="25" height="7"/><rect class="t" x="617" y="118" width="25" height="24"/><text x="618" y="128" font-size="9">74</text></g>
<g id="p75"><rect class="bg" x="642" y="117" width="28" height="25"/><rect class="n" x="660" y="130" width="10" height="12"/><rect class="t" x="642" y="117" width="28" height="25"/><text x="648" y="127" font-size="9">75</text></g>
<g id="p78"><rect class="bg" x="670" y="7" width="22" height="35"/><rect class="a" x="682" y="15" width="10" height="27"/><rect class="t" x="670" y="7" width="22" height="35"/><text x="671" y="17" font-size="9">78</text></g>
<g id="p79"><rect class="bg" x="692" y="7" width="15" height="35"/><rect class="v" x="692" y="18" width="15" height="12"/><rect class="e" x="692" y="30" width="15" height="12"/><rect class="t" x="692" y="7" width="15" height="35"/><text x="693" y="17" font-size="9">79</text></g>
<g id="p80"><rect class="bg" x="670" y="42" width="37" height="18"/><rect class="a" x="670" y="42" width="37" height="18"/><rect class="t" x="670" y="42" width="37" height="18"/><text x="671" y="52" font-size="9">80</text></g>
<g id="p81"><rect class="bg" x="670" y="60" width="37" height="20"/><rect class="a" x="670" y="60" width="37" height="20"/><rect class="t" x="670" y="60" width="37" height="20"/><text x="671" y="70" font-size="9">81</text></g>
<g id="p82"><rect class="bg" x="670" y="80" width="37" height="19"/><rect class="a" x="670" y="80" width="37" height="19"/><rect class="t" x="670" y="80" width="37" height="19"/><text x="671" y="90" font-size="9">82</text></g>
<g id="p83"><rect class="bg" x="670" y="99" width="37" height="19"/><rect class="v" x="692" y="99" width="15" height="10"/><rect class="e" x="692" y="109" width="15" height="9"/><rect class="t" x="670" y="99" width="37" height="19"/><text x="671" y="109" font-size="9">83</text></g>
<g id="p84"><rect class="bg" x="670" y="118" width="37" height="24"/><rect class="a" x="680" y="118" width="27" height="17"/><rect class="n" x="695" y="120" width="12" height="15"/><rect class="w" x="670" y="135" width="37" height="7"/><rect class="t" x="670" y="118" width="37" height="24"/><text x="671" y="128" font-size="9">84</text></g>
<g id="prionopidae"><rect class="bg" x="707" y="7" width="10" height="135"/><rect class="a" x="707" y="30" width="10" height="112"/><rect class="t" x="707" y="7" width="10" height="135"/><text transform="rotate(-90 715 44)" x="715" y="44" class="m i" font-size="10">Prionopidae</text></g>
<g id="melanocharitidae"><rect class="bg" x="717" y="7" width="19" height="90"/><rect class="a" x="721" y="7" width="15" height="90"/><rect class="t" x="717" y="7" width="19" height="90"/><text transform="rotate(-90 730 49)" x="730" y="49" class="m i" font-size="9.5">Melanocharitidae</text></g>
<g id="cinclidae"><rect class="bg" x="717" y="97" width="19" height="45"/><rect class="a" x="717" y="97" width="19" height="24"/><rect class="n" x="717" y="121" width="19" height="12"/><rect class="c" x="717" y="133" width="19" height="9"/><rect class="t" x="717" y="97" width="19" height="45"/><text transform="rotate(-90 729 119)" x="729" y="119" class="m i" font-size="10">Cinclidae</text></g>
<g id="formicariidae"><rect class="bg" x="736" y="7" width="38" height="55"/><rect class="a" x="746" y="35" width="28" height="27"/><rect class="n" x="762" y="50" width="12" height="12"/><rect class="t" x="736" y="7" width="38" height="55"/><text transform="rotate(-90 747 34)" x="747" y="34" class="m i" font-size="8">Formicariidae</text></g>
<g id="climacteridae"><rect class="bg" x="736" y="62" width="38" height="33"/><rect class="a" x="736" y="62" width="38" height="10"/><rect class="n" x="736" y="72" width="25" height="23"/><rect class="n" x="752" y="65" width="12" height="7"/><rect class="v" x="764" y="67" width="10" height="12"/><rect class="e" x="748" y="79" width="13" height="16"/><rect class="c" x="764" y="79" width="10" height="16"/><rect class="t" x="736" y="62" width="38" height="33"/><text x="737" y="68" font-size="5.5" class="i">Climacteridae</text></g>
<g id="artamidae"><rect class="bg" x="736" y="95" width="38" height="50"/><rect class="a" x="745" y="100" width="29" height="45"/><rect class="t" x="736" y="95" width="38" height="50"/><text transform="rotate(-90 749 120)" x="749" y="120" class="m i" font-size="10">Artamidae</text></g>
<g id="cracticidae"><rect class="bg" x="736" y="145" width="38" height="55"/><rect class="a" x="750" y="150" width="24" height="38"/><rect class="w" x="749" y="188" width="12" height="12"/><rect class="e" x="761" y="188" width="13" height="12"/><rect class="t" x="736" y="145" width="38" height="55"/><text transform="rotate(-90 749 172)" x="749" y="172" class="m i" font-size="11">Cracticidae</text></g>
<g id="prunellidae"><rect class="bg" x="774" y="7" width="22" height="105"/><rect class="x" x="787" y="25" width="9" height="15"/><rect class="a" x="774" y="40" width="22" height="48"/><rect class="n" x="774" y="88" width="22" height="15"/><rect class="c" x="774" y="103" width="22" height="9"/><rect class="t" x="774" y="7" width="22" height="105"/><text transform="rotate(-90 791 38)" x="791" y="38" class="m i" font-size="13">Prunellidae</text></g>
<g id="certhiidae"><rect class="bg" x="774" y="112" width="22" height="88"/><rect class="a" x="774" y="112" width="22" height="50"/><rect class="a" x="774" y="162" width="11" height="12"/><rect class="v" x="785" y="162" width="11" height="12"/><rect class="v" x="774" y="174" width="11" height="14"/><rect class="e" x="785" y="174" width="11" height="14"/><rect class="c" x="774" y="193" width="22" height="7"/><rect class="t" x="774" y="112" width="22" height="88"/><text transform="rotate(-90 788 135)" x="788" y="135" class="m i" font-size="10">Certhiidae</text></g>
<g id="psophodidae"><rect class="bg" x="796" y="7" width="37" height="75"/><rect class="a" x="800" y="35" width="33" height="47"/><rect class="n" x="822" y="66" width="11" height="16"/><rect class="t" x="796" y="7" width="37" height="75"/><text transform="rotate(-90 808 42)" x="808" y="42" class="m i" font-size="13">Psophodidae</text></g>
<g id="aegithalidae"><rect class="bg" x="796" y="82" width="37" height="61"/><rect class="a" x="810" y="96" width="23" height="47"/><rect class="v" x="822" y="110" width="11" height="12"/><rect class="v" x="812" y="128" width="10" height="15"/><rect class="c" x="822" y="128" width="11" height="15"/><rect class="t" x="796" y="82" width="37" height="61"/><text transform="rotate(-90 807 110)" x="807" y="110" class="m i" font-size="9">Aegithalidae</text></g>
<g id="remizidae"><rect class="bg" x="796" y="143" width="37" height="57"/><rect class="a" x="805" y="150" width="28" height="20"/><rect class="v" x="805" y="170" width="28" height="30"/><rect class="c" x="822" y="188" width="11" height="12"/><rect class="t" x="796" y="143" width="37" height="57"/><text transform="rotate(-90 808 172)" x="808" y="172" class="m i" font-size="11.5">Remizidae</text></g>
<g id="dicruridae"><rect class="bg" x="833" y="7" width="19" height="266"/><rect class="a" x="833" y="90" width="19" height="135"/><rect class="n" x="833" y="225" width="19" height="48"/><rect class="t" x="833" y="7" width="19" height="266"/><text transform="rotate(-90 848 43)" x="848" y="43" class="m i" font-size="16">Dicruridae</text></g>
<g id="platysteiridae"><rect class="bg" x="852" y="7" width="18" height="266"/><rect class="a" x="852" y="120" width="18" height="145"/><rect class="n" x="852" y="265" width="18" height="8"/><rect class="t" x="852" y="7" width="18" height="266"/><text transform="rotate(-90 866 56)" x="866" y="56" class="m i" font-size="15">Platysteiridae</text></g>
<g id="p76"><rect class="bg" x="567" y="142" width="41" height="48"/><rect class="a" x="580" y="170" width="28" height="20"/><rect class="t" x="567" y="142" width="41" height="48"/><text x="570" y="152" font-size="9">76</text></g>
<g id="p77"><rect class="bg" x="608" y="142" width="30" height="48"/><rect class="a" x="608" y="150" width="30" height="40"/><rect class="n" x="625" y="165" width="13" height="25"/><rect class="t" x="608" y="142" width="30" height="48"/><text x="609" y="152" font-size="9">77</text></g>
<g id="regulidae"><rect class="bg" x="638" y="142" width="22" height="48"/><rect class="a" x="638" y="142" width="22" height="25"/><rect class="v" x="638" y="167" width="22" height="12"/><rect class="e" x="648" y="175" width="12" height="15"/><rect class="t" x="638" y="142" width="22" height="48"/><text transform="rotate(-90 649 165)" x="649" y="165" class="m i" font-size="10.5">Regulidae</text></g>
<g id="conopophagidae"><rect class="bg" x="660" y="142" width="43" height="48"/><rect class="a" x="685" y="150" width="18" height="40"/><rect class="a" x="670" y="165" width="15" height="25"/><rect class="t" x="660" y="142" width="43" height="48"/><text transform="rotate(-90 666 166)" x="666" y="166" class="m i" font-size="5.5">Conopophagidae</text></g>
<g id="stenostiridae"><rect class="bg" x="703" y="142" width="33" height="48"/><rect class="a" x="715" y="150" width="21" height="40"/><rect class="n" x="725" y="175" width="11" height="15"/><rect class="t" x="703" y="142" width="33" height="48"/><text transform="rotate(-90 708 160)" x="708" y="160" class="m i" font-size="5.5">Stenostiridae</text></g>
<g id="bernieridae"><rect class="bg" x="567" y="190" width="169" height="10"/><rect class="a" x="650" y="190" width="86" height="10"/><rect class="t" x="567" y="190" width="169" height="10"/><text x="598" y="198.5" font-size="9" class="i">Bernieridae</text></g>
<g id="vangidae"><rect class="bg" x="567" y="200" width="64" height="60"/><rect class="a" x="595" y="230" width="36" height="30"/><rect class="t" x="567" y="200" width="64" height="60"/><text x="571" y="213" font-size="14" class="i">Vangidae</text></g>
<g id="eurylaimidae"><rect class="bg" x="631" y="200" width="44" height="60"/><rect class="a" x="635" y="210" width="40" height="50"/><rect class="t" x="631" y="200" width="44" height="60"/><text transform="rotate(-90 645 228)" x="645" y="228" class="m i" font-size="10">Eurylaimidae</text></g>
<g id="macrosphenidae"><rect class="bg" x="675" y="200" width="51" height="60"/><rect class="a" x="690" y="220" width="36" height="40"/><rect class="n" x="716" y="245" width="10" height="15"/><rect class="t" x="675" y="200" width="51" height="60"/><text x="680" y="212" font-size="5.5" class="i">Macrosphenidae</text></g>
<g id="polioptilidae"><rect class="bg" x="726" y="200" width="48" height="60"/><rect class="a" x="730" y="210" width="44" height="35"/><rect class="n" x="762" y="232" width="12" height="13"/><rect class="v" x="752" y="245" width="12" height="15"/><rect class="c" x="764" y="245" width="10" height="15"/><rect class="t" x="726" y="200" width="48" height="60"/><text transform="rotate(-90 739 230)" x="739" y="230" class="m i" font-size="10.5">Polioptilidae</text></g>
<g id="viduidae"><rect class="bg" x="774" y="200" width="59" height="60"/><rect class="a" x="778" y="215" width="55" height="22"/><rect class="a" x="778" y="237" width="26" height="23"/><rect class="n" x="804" y="237" width="14" height="12"/><rect class="d" x="818" y="237" width="15" height="12"/><rect class="d" x="804" y="249" width="29" height="11"/><rect class="t" x="774" y="200" width="59" height="60"/><text x="778" y="213" font-size="14" class="i">Viduidae</text></g>
<g id="ptilonorhynchidae"><rect class="bg" x="567" y="260" width="266" height="13"/><rect class="a" x="680" y="260" width="73" height="13"/><rect class="n" x="753" y="260" width="22" height="13"/><rect class="v" x="775" y="260" width="58" height="13"/><rect class="t" x="567" y="260" width="266" height="13"/><text x="570" y="271" font-size="13" class="i">Ptilonorhynchidae</text></g>
<g id="oriolidae"><rect class="bg" x="567" y="273" width="85" height="75"/><rect class="x" x="596" y="299" width="13" height="12"/><rect class="a" x="609" y="299" width="43" height="12"/><rect class="a" x="596" y="311" width="56" height="37"/><rect class="v" x="638" y="324" width="14" height="24"/><rect class="n" x="623" y="336" width="15" height="12"/><rect class="t" x="567" y="273" width="85" height="75"/><text x="571" y="302" font-size="20" class="i">Oriolidae</text></g>
<g id="pittidae"><rect class="bg" x="652" y="273" width="71" height="75"/><rect class="a" x="653" y="287" width="70" height="61"/><rect class="t" x="652" y="273" width="71" height="75"/><text x="656" y="303" font-size="19.7" class="i">Pittidae</text></g>
<g id="cettiidae"><rect class="bg" x="723" y="273" width="83" height="75"/><rect class="a" x="752" y="300" width="54" height="48"/><rect class="e" x="798" y="328" width="8" height="20"/><rect class="t" x="723" y="273" width="83" height="75"/><text x="727" y="302" font-size="20" class="i">Cettiidae</text></g>
<g id="maluridae"><rect class="bg" x="806" y="273" width="64" height="75"/><rect class="a" x="806" y="283" width="64" height="65"/><rect class="n" x="850" y="315" width="10" height="13"/><rect class="v" x="860" y="315" width="10" height="13"/><rect class="n" x="835" y="338" width="15" height="10"/><rect class="c" x="850" y="328" width="20" height="20"/><rect class="t" x="806" y="273" width="64" height="75"/><text x="810" y="300" font-size="13.6" class="i">Maluridae</text></g>
<g id="sittidae"><rect class="bg" x="567" y="348" width="303" height="15"/><rect class="a" x="612" y="348" width="161" height="15"/><rect class="n" x="773" y="348" width="12" height="15"/><rect class="v" x="785" y="348" width="43" height="15"/><rect class="e" x="828" y="348" width="32" height="15"/><rect class="c" x="860" y="348" width="10" height="15"/><rect class="t" x="567" y="348" width="303" height="15"/><text x="646" y="359.5" font-size="13.5" class="i" textLength="53" lengthAdjust="spacingAndGlyphs">Sittidae</text></g>
<g id="paradisaeidae"><rect class="bg" x="567" y="363" width="303" height="24"/><rect class="a" x="716" y="363" width="154" height="24"/><rect class="n" x="860" y="363" width="10" height="12"/><rect class="n" x="848" y="375" width="22" height="12"/><rect class="t" x="567" y="363" width="303" height="24"/><text x="573" y="383" font-size="22.5" class="i" textLength="148" lengthAdjust="spacingAndGlyphs">Paradisaeidae</text></g>
<g id="grallariidae"><rect class="bg" x="567" y="387" width="303" height="30"/><rect class="a" x="813" y="390" width="57" height="27"/><rect class="t" x="567" y="387" width="303" height="30"/><text x="574" y="409" font-size="23.6" class="i">Grallariidae</text></g>
<g id="pellorneidae"><rect class="bg" x="567" y="417" width="117" height="103"/><rect class="x" x="660" y="458" width="12" height="13"/><rect class="a" x="672" y="458" width="12" height="13"/><rect class="a" x="622" y="471" width="62" height="49"/><rect class="n" x="668" y="508" width="16" height="12"/><rect class="t" x="567" y="417" width="117" height="103"/><text x="571" y="437" font-size="20" class="i">Pellorneidae</text></g>
<g id="locustellidae"><rect class="bg" x="684" y="417" width="103" height="103"/><rect class="a" x="713" y="446" width="74" height="74"/><rect class="n" x="757" y="498" width="15" height="22"/><rect class="v" x="772" y="498" width="15" height="22"/><rect class="t" x="684" y="417" width="103" height="103"/><text x="688" y="437" font-size="16.6" class="i">Locustellidae</text></g>
<g id="passeridae"><rect class="bg" x="787" y="417" width="83" height="103"/><rect class="a" x="787" y="440" width="83" height="80"/><rect class="n" x="837" y="479" width="33" height="13"/><rect class="w" x="837" y="492" width="11" height="13"/><rect class="e" x="848" y="492" width="11" height="13"/><rect class="c" x="859" y="492" width="11" height="13"/><rect class="n" x="823" y="505" width="14" height="15"/><rect class="v" x="837" y="505" width="11" height="15"/><rect class="c" x="848" y="505" width="22" height="15"/><rect class="t" x="787" y="417" width="83" height="103"/><text x="791" y="437" font-size="15" class="i">Passeridae</text></g>
<g id="timaliidae"><rect class="bg" x="870" y="7" width="95" height="104"/><rect class="a" x="939" y="73" width="26" height="38"/><rect class="t" x="870" y="7" width="95" height="104"/><text x="876" y="27" font-size="19" class="i">Timaliidae</text></g>
<g id="dicaeidae"><rect class="bg" x="870" y="111" width="95" height="90"/><rect class="a" x="952" y="138" width="13" height="13"/><rect class="a" x="912" y="151" width="53" height="50"/><rect class="t" x="870" y="111" width="95" height="90"/><text x="874" y="131" font-size="19.8" class="i">Dicaeidae</text></g>
<g id="mimidae"><rect class="bg" x="870" y="201" width="95" height="63"/><rect class="a" x="900" y="227" width="25" height="37"/><rect class="n" x="925" y="215" width="28" height="12"/><rect class="w" x="953" y="215" width="12" height="12"/><rect class="v" x="925" y="227" width="13" height="37"/><rect class="e" x="938" y="227" width="27" height="13"/><rect class="e" x="938" y="240" width="17" height="12"/><rect class="c" x="955" y="240" width="10" height="24"/><rect class="c" x="938" y="252" width="17" height="12"/><rect class="t" x="870" y="201" width="95" height="63"/><text x="878" y="221" font-size="21.8" class="i">Mimidae</text></g>
<g id="rhipiduridae"><rect class="bg" x="870" y="264" width="95" height="91"/><rect class="a" x="952" y="290" width="13" height="12"/><rect class="a" x="912" y="302" width="53" height="53"/><rect class="n" x="952" y="342" width="13" height="13"/><rect class="t" x="870" y="264" width="95" height="91"/><text x="876" y="283" font-size="15.2" class="i">Rhipiduridae</text></g>
<g id="laniidae"><rect class="bg" x="870" y="355" width="95" height="62"/><rect class="a" x="872" y="380" width="93" height="37"/><rect class="d" x="929" y="370" width="25" height="13"/><rect class="n" x="915" y="383" width="14" height="34"/><rect class="v" x="929" y="383" width="25" height="20"/><rect class="v" x="954" y="370" width="11" height="33"/><rect class="e" x="929" y="403" width="36" height="14"/><rect class="t" x="870" y="355" width="95" height="62"/><text x="876" y="378" font-size="23.3" class="i">Laniidae</text></g>
<g id="rhinocryptidae"><rect class="bg" x="870" y="417" width="95" height="103"/><rect class="a" x="884" y="443" width="81" height="77"/><rect class="t" x="870" y="417" width="95" height="103"/><text x="878" y="434" font-size="11.3" class="i">Rhinocryptidae</text></g>
<g id="cardinalidae"><rect class="bg" x="965" y="7" width="104" height="75"/><rect class="a" x="1022" y="20" width="47" height="13"/><rect class="a" x="1006" y="33" width="63" height="49"/><rect class="v" x="1035" y="35" width="24" height="13"/><rect class="e" x="1059" y="35" width="10" height="13"/><rect class="e" x="1035" y="48" width="34" height="20"/><rect class="n" x="1022" y="70" width="13" height="12"/><rect class="e" x="1035" y="68" width="12" height="14"/><rect class="c" x="1047" y="68" width="22" height="14"/><rect class="t" x="965" y="7" width="104" height="75"/><text x="969" y="22" font-size="17.5" class="i">Cardinalidae</text></g>
<g id="pipridae"><rect class="bg" x="965" y="82" width="104" height="85"/><rect class="a" x="1020" y="100" width="49" height="10"/><rect class="a" x="1006" y="110" width="63" height="57"/><rect class="n" x="1030" y="124" width="39" height="12"/><rect class="n" x="1030" y="136" width="11" height="31"/><rect class="n" x="1041" y="136" width="18" height="12"/><rect class="w" x="1059" y="136" width="10" height="12"/><rect class="w" x="1041" y="148" width="10" height="19"/><rect class="c" x="1051" y="148" width="18" height="19"/><rect class="t" x="965" y="82" width="104" height="85"/><text x="978" y="107" font-size="23.5" class="i">Pipridae</text></g>
<g id="petroicidae"><rect class="bg" x="965" y="167" width="104" height="78"/><rect class="a" x="995" y="188" width="74" height="57"/><rect class="n" x="1040" y="210" width="29" height="13"/><rect class="n" x="1040" y="223" width="11" height="12"/><rect class="c" x="1051" y="223" width="18" height="22"/><rect class="c" x="1040" y="235" width="11" height="10"/><rect class="t" x="965" y="167" width="104" height="78"/><text x="968" y="186" font-size="19.6" class="i">Petroicidae</text></g>
<g id="pachycephalidae"><rect class="bg" x="965" y="245" width="104" height="88"/><rect class="a" x="992" y="262" width="77" height="71"/><rect class="n" x="1058" y="303" width="11" height="15"/><rect class="n" x="1047" y="318" width="22" height="15"/><rect class="t" x="965" y="245" width="104" height="88"/><text x="970" y="261" font-size="12.8" class="i">Pachycephalidae</text></g>
<g id="malaconotidae"><rect class="bg" x="965" y="333" width="104" height="84"/><rect class="a" x="995" y="335" width="74" height="82"/><rect class="a" x="978" y="390" width="17" height="27"/><rect class="n" x="1060" y="398" width="9" height="19"/><rect class="t" x="965" y="333" width="104" height="84"/><text x="970" y="354" font-size="15" class="i">Malaconotidae</text></g>
<g id="acrocephalidae"><rect class="bg" x="965" y="417" width="104" height="103"/><rect class="x" x="994" y="445" width="12" height="13"/><rect class="a" x="1006" y="445" width="63" height="28"/><rect class="a" x="994" y="458" width="12" height="62"/><rect class="a" x="1006" y="473" width="16" height="12"/><rect class="n" x="1022" y="473" width="12" height="12"/><rect class="w" x="1034" y="473" width="11" height="12"/><rect class="v" x="1045" y="473" width="12" height="12"/><rect class="v" x="1057" y="473" width="12" height="12"/><rect class="n" x="1006" y="485" width="16" height="35"/><rect class="v" x="1022" y="485" width="15" height="12"/><rect class="e" x="1037" y="485" width="32" height="12"/><rect class="e" x="1022" y="497" width="15" height="23"/><rect class="c" x="1037" y="497" width="32" height="23"/><rect class="t" x="965" y="417" width="104" height="103"/><text x="967" y="433" font-size="14.7" class="i">Acrocephalidae</text></g>
<g id="sylviidae"><rect class="bg" x="1069" y="7" width="45" height="273"/><rect class="x" x="1085" y="135" width="29" height="11"/><rect class="x" x="1069" y="146" width="13" height="11"/><rect class="a" x="1082" y="146" width="32" height="11"/><rect class="a" x="1069" y="157" width="45" height="81"/><rect class="n" x="1100" y="227" width="14" height="11"/><rect class="n" x="1069" y="238" width="11" height="14"/><rect class="v" x="1080" y="238" width="12" height="14"/><rect class="e" x="1092" y="238" width="22" height="14"/><rect class="w" x="1069" y="252" width="11" height="15"/><rect class="e" x="1080" y="252" width="12" height="15"/><rect class="c" x="1092" y="252" width="22" height="15"/><rect class="v" x="1069" y="267" width="11" height="13"/><rect class="c" x="1080" y="267" width="34" height="13"/><rect class="t" x="1069" y="7" width="45" height="273"/><text transform="rotate(-90 1100 68)" x="1100" y="68" class="m i" font-size="25">Sylviidae</text></g>
<g id="acanthizidae"><rect class="bg" x="1069" y="280" width="45" height="262"/><rect class="a" x="1097" y="327" width="17" height="11"/><rect class="a" x="1069" y="338" width="45" height="191"/><rect class="n" x="1103" y="500" width="11" height="13"/><rect class="n" x="1080" y="513" width="12" height="29"/><rect class="v" x="1092" y="513" width="22" height="16"/><rect class="e" x="1092" y="529" width="22" height="13"/><rect class="a" x="1069" y="529" width="11" height="13"/><rect class="t" x="1069" y="280" width="45" height="262"/><text transform="rotate(-90 1097 372)" x="1097" y="372" class="m i" font-size="21">Acanthizidae</text></g>
<g id="campephagidae"><rect class="bg" x="1114" y="7" width="94" height="171"/><rect class="a" x="1170" y="88" width="38" height="10"/><rect class="a" x="1114" y="98" width="94" height="80"/><rect class="t" x="1114" y="7" width="94" height="171"/><text transform="rotate(-90 1153 88)" x="1153" y="88" class="m i" font-size="21">Campephagidae</text></g>
<g id="motacillidae"><rect class="bg" x="1114" y="178" width="94" height="125"/><rect class="a" x="1114" y="215" width="94" height="88"/><rect class="n" x="1170" y="255" width="13" height="10"/><rect class="v" x="1158" y="265" width="22" height="38"/><rect class="e" x="1180" y="265" width="28" height="17"/><rect class="c" x="1180" y="282" width="28" height="21"/><rect class="t" x="1114" y="178" width="94" height="125"/><text transform="rotate(-90 1153 237)" x="1153" y="237" class="m i" font-size="22">Motacillidae</text></g>
<g id="paridae"><rect class="bg" x="1114" y="303" width="94" height="109"/><rect class="a" x="1155" y="322" width="53" height="8"/><rect class="a" x="1114" y="330" width="94" height="82"/><rect class="n" x="1180" y="342" width="14" height="12"/><rect class="v" x="1194" y="342" width="14" height="12"/><rect class="v" x="1140" y="354" width="68" height="12"/><rect class="v" x="1140" y="366" width="13" height="46"/><rect class="v" x="1153" y="366" width="12" height="30"/><rect class="e" x="1165" y="366" width="43" height="12"/><rect class="c" x="1165" y="378" width="43" height="34"/><rect class="e" x="1153" y="396" width="12" height="16"/><rect class="t" x="1114" y="303" width="94" height="109"/><text x="1127" y="325" font-size="23" class="i">Paridae</text></g>
<g id="troglodytidae"><rect class="bg" x="1114" y="412" width="94" height="154"/><rect class="a" x="1167" y="465" width="41" height="101"/><rect class="a" x="1114" y="478" width="53" height="88"/><rect class="n" x="1170" y="517" width="13" height="13"/><rect class="w" x="1183" y="517" width="12" height="13"/><rect class="c" x="1195" y="517" width="13" height="13"/><rect class="d" x="1170" y="530" width="13" height="13"/><rect class="v" x="1183" y="530" width="12" height="13"/><rect class="e" x="1195" y="530" width="13" height="13"/><rect class="n" x="1155" y="543" width="15" height="23"/><rect class="v" x="1170" y="543" width="13" height="23"/><rect class="c" x="1183" y="543" width="25" height="23"/><rect class="t" x="1114" y="412" width="94" height="154"/><text transform="rotate(-90 1147 486)" x="1147" y="486" class="m i" font-size="24">Troglodytidae</text></g>
<g id="p-unlabelled"><rect class="bg" x="1208" y="287" width="62" height="279"/><rect class="a" x="1230" y="428" width="40" height="138"/><rect class="a" x="1208" y="443" width="22" height="123"/><rect class="d" x="1248" y="543" width="22" height="23"/><rect class="n" x="1235" y="555" width="13" height="11"/><rect class="t" x="1208" y="287" width="62" height="279"/></g>
<g id="monarchidae"><rect class="bg" x="1208" y="7" width="62" height="280"/><rect class="a" x="1245" y="165" width="25" height="15"/><rect class="a" x="1208" y="180" width="62" height="107"/><rect class="n" x="1233" y="258" width="14" height="10"/><rect class="v" x="1247" y="258" width="23" height="20"/><rect class="d" x="1233" y="268" width="14" height="19"/><rect class="c" x="1247" y="278" width="23" height="9"/><rect class="t" x="1208" y="7" width="62" height="280"/><text transform="rotate(-90 1250 95)" x="1250" y="95" class="m i" font-size="28">Monarchidae</text></g>
<g id="meliphagidae"><rect class="bg" x="1270" y="7" width="151" height="193"/><rect class="x" x="1298" y="83" width="12" height="12"/><rect class="a" x="1310" y="83" width="111" height="12"/><rect class="a" x="1270" y="95" width="151" height="105"/><rect class="n" x="1340" y="133" width="81" height="15"/><rect class="n" x="1340" y="148" width="25" height="52"/><rect class="v" x="1365" y="148" width="30" height="12"/><rect class="w" x="1395" y="158" width="26" height="24"/><rect class="e" x="1365" y="160" width="30" height="25"/><rect class="v" x="1365" y="185" width="20" height="15"/><rect class="c" x="1385" y="185" width="36" height="15"/><rect class="t" x="1270" y="7" width="151" height="193"/><text transform="rotate(-90 1366 97)" x="1366" y="97" class="m i" font-size="27">Meliphagidae</text></g>
<g id="estrildidae"><rect class="bg" x="1270" y="200" width="151" height="165"/><rect class="a" x="1270" y="235" width="151" height="130"/><rect class="n" x="1365" y="315" width="56" height="25"/><rect class="n" x="1365" y="340" width="20" height="25"/><rect class="v" x="1385" y="340" width="15" height="25"/><rect class="e" x="1400" y="340" width="21" height="12"/><rect class="v" x="1400" y="352" width="10" height="13"/><rect class="d" x="1410" y="352" width="11" height="13"/><rect class="t" x="1270" y="200" width="151" height="165"/><text x="1285" y="228" font-size="27.5" class="i">Estrildidae</text></g>
<g id="parulidae"><rect class="bg" x="1270" y="365" width="151" height="138"/><rect class="a" x="1270" y="400" width="151" height="103"/><rect class="n" x="1340" y="400" width="81" height="14"/><rect class="d" x="1325" y="427" width="12" height="13"/><rect class="v" x="1337" y="414" width="84" height="16"/><rect class="v" x="1337" y="430" width="23" height="73"/><rect class="e" x="1360" y="430" width="61" height="73"/><rect class="n" x="1325" y="455" width="12" height="48"/><rect class="t" x="1270" y="365" width="151" height="138"/><text x="1295" y="398" font-size="27.5" class="i">Parulidae</text></g>
<g id="corvidae"><rect class="bg" x="1270" y="503" width="151" height="149"/><rect class="a" x="1283" y="515" width="138" height="137"/><rect class="n" x="1345" y="572" width="76" height="13"/><rect class="v" x="1345" y="585" width="76" height="12"/><rect class="w" x="1345" y="597" width="12" height="13"/><rect class="e" x="1357" y="597" width="64" height="13"/><rect class="v" x="1345" y="610" width="30" height="42"/><rect class="c" x="1375" y="610" width="46" height="42"/><rect class="t" x="1270" y="503" width="151" height="149"/><text x="1295" y="551" font-size="27.5" class="i">Corvidae</text></g>
<g id="cisticolidae"><rect class="bg" x="1270" y="652" width="151" height="180"/><rect class="a" x="1270" y="690" width="151" height="142"/><rect class="n" x="1385" y="797" width="36" height="35"/><rect class="t" x="1270" y="652" width="151" height="180"/><text transform="rotate(-90 1366 740)" x="1366" y="740" class="m i" font-size="28">Cisticolidae</text></g>
<g id="vireonidae"><rect class="bg" x="567" y="520" width="502" height="22"/><rect class="a" x="805" y="520" width="145" height="22"/><rect class="a" x="780" y="531" width="25" height="11"/><rect class="w" x="935" y="531" width="12" height="11"/><rect class="v" x="950" y="520" width="80" height="22"/><rect class="e" x="1030" y="520" width="30" height="22"/><rect class="c" x="1060" y="520" width="9" height="22"/><rect class="t" x="567" y="520" width="502" height="22"/><text x="712" y="538" font-size="20" class="i">Vireonidae</text></g>
<g id="phylloscopidae"><rect class="bg" x="567" y="542" width="547" height="24"/><rect class="a" x="760" y="542" width="305" height="24"/><rect class="n" x="1065" y="542" width="15" height="24"/><rect class="v" x="1080" y="542" width="15" height="24"/><rect class="e" x="1095" y="542" width="19" height="12"/><rect class="c" x="1095" y="554" width="19" height="12"/><rect class="t" x="567" y="542" width="547" height="24"/><text x="620" y="560" font-size="19" class="i">Phylloscopidae</text></g>
<g id="zosteropidae"><rect class="bg" x="567" y="566" width="140" height="161"/><rect class="a" x="660" y="648" width="47" height="12"/><rect class="a" x="620" y="660" width="87" height="67"/><rect class="n" x="690" y="700" width="17" height="15"/><rect class="v" x="690" y="715" width="17" height="12"/><rect class="t" x="567" y="566" width="140" height="161"/><text x="578" y="594" font-size="21.5" class="i">Zosteropidae</text></g>
<g id="icteridae"><rect class="bg" x="707" y="566" width="106" height="161"/><rect class="x" x="709" y="633" width="11" height="11"/><rect class="a" x="720" y="633" width="93" height="94"/><rect class="n" x="758" y="672" width="55" height="15"/><rect class="v" x="758" y="687" width="20" height="40"/><rect class="e" x="778" y="687" width="35" height="18"/><rect class="e" x="778" y="705" width="4" height="22"/><rect class="c" x="782" y="705" width="31" height="22"/><rect class="t" x="707" y="566" width="106" height="161"/><text x="721" y="593" font-size="21.5" class="i">Icteridae</text></g>
<g id="alaudidae"><rect class="bg" x="813" y="566" width="107" height="161"/><rect class="a" x="813" y="610" width="107" height="117"/><rect class="n" x="880" y="680" width="40" height="15"/><rect class="e" x="880" y="695" width="13" height="32"/><rect class="v" x="893" y="695" width="27" height="17"/><rect class="e" x="905" y="712" width="15" height="15"/><rect class="t" x="813" y="566" width="107" height="161"/><text x="824" y="594" font-size="20" class="i">Alaudidae</text></g>
<g id="hirundinidae"><rect class="bg" x="920" y="566" width="97" height="161"/><rect class="a" x="920" y="600" width="97" height="127"/><rect class="n" x="960" y="680" width="57" height="15"/><rect class="v" x="948" y="695" width="69" height="10"/><rect class="d" x="948" y="710" width="12" height="17"/><rect class="e" x="960" y="705" width="25" height="22"/><rect class="c" x="985" y="705" width="32" height="22"/><rect class="t" x="920" y="566" width="97" height="161"/><text x="927" y="591" font-size="15.8" class="i">Hirundinidae</text></g>
<g id="sturnidae"><rect class="bg" x="1017" y="566" width="134" height="161"/><rect class="a" x="1045" y="603" width="106" height="12"/><rect class="a" x="1030" y="615" width="121" height="112"/><rect class="n" x="1095" y="690" width="56" height="12"/><rect class="n" x="1095" y="702" width="15" height="25"/><rect class="v" x="1110" y="702" width="41" height="25"/><rect class="e" x="1123" y="714" width="15" height="13"/><rect class="t" x="1017" y="566" width="134" height="161"/><text x="1028" y="598" font-size="28" class="i">Sturnidae</text></g>
<g id="ploceidae"><rect class="bg" x="1151" y="566" width="119" height="161"/><rect class="a" x="1190" y="595" width="80" height="132"/><rect class="a" x="1151" y="640" width="39" height="87"/><rect class="n" x="1225" y="700" width="45" height="12"/><rect class="e" x="1225" y="712" width="10" height="15"/><rect class="v" x="1235" y="712" width="35" height="15"/><rect class="t" x="1151" y="566" width="119" height="161"/><text transform="rotate(-90 1192 642)" x="1192" y="642" class="m i" font-size="31">Ploceidae</text></g>
<g id="leiothrichidae"><rect class="bg" x="567" y="727" width="703" height="33"/><rect class="a" x="930" y="727" width="302" height="33"/><rect class="n" x="1232" y="727" width="12" height="33"/><rect class="v" x="1244" y="727" width="26" height="20"/><rect class="e" x="1244" y="747" width="14" height="13"/><rect class="c" x="1258" y="747" width="12" height="13"/><rect class="t" x="567" y="727" width="703" height="33"/><text x="726" y="753" font-size="28" class="i">Leiothrichidae</text></g>
<g id="nectariniidae"><rect class="bg" x="567" y="760" width="703" height="36"/><rect class="a" x="800" y="760" width="395" height="36"/><rect class="n" x="1195" y="760" width="50" height="36"/><rect class="e" x="1245" y="760" width="25" height="10"/><rect class="v" x="1245" y="770" width="25" height="26"/><rect class="t" x="567" y="760" width="703" height="36"/><text x="622" y="786" font-size="28.4" class="i">Nectariniidae</text></g>
<g id="pycnonotidae"><rect class="bg" x="567" y="796" width="703" height="36"/><rect class="a" x="847" y="796" width="300" height="36"/><rect class="n" x="1147" y="796" width="70" height="36"/><rect class="a" x="1217" y="796" width="28" height="10"/><rect class="e" x="1245" y="796" width="25" height="10"/><rect class="v" x="1217" y="806" width="53" height="26"/><rect class="t" x="567" y="796" width="703" height="36"/><text x="659" y="822" font-size="28.3" class="i">Pycnonotidae</text></g>
<g id="turdidae"><rect class="bg" x="567" y="832" width="854" height="36"/><rect class="a" x="765" y="832" width="520" height="36"/><rect class="n" x="1285" y="832" width="40" height="36"/><rect class="w" x="1300" y="844" width="12" height="12"/><rect class="e" x="1312" y="844" width="13" height="24"/><rect class="v" x="1325" y="832" width="35" height="36"/><rect class="e" x="1360" y="832" width="15" height="36"/><rect class="c" x="1375" y="832" width="46" height="36"/><rect class="t" x="567" y="832" width="854" height="36"/><text x="662" y="857" font-size="24" class="i">Turdidae</text></g>
<g id="thamnophilidae"><rect class="bg" x="567" y="868" width="470" height="84"/><rect class="x" x="827" y="883" width="12" height="12"/><rect class="a" x="839" y="883" width="198" height="12"/><rect class="a" x="827" y="895" width="210" height="57"/><rect class="n" x="988" y="898" width="49" height="54"/><rect class="t" x="567" y="868" width="470" height="84"/><text x="582" y="922" font-size="28" class="i">Thamnophilidae</text></g>
<g id="fringillidae"><rect class="bg" x="1037" y="868" width="384" height="84"/><rect class="x" x="1187" y="890" width="12" height="12"/><rect class="a" x="1199" y="868" width="121" height="84"/><rect class="a" x="1187" y="902" width="12" height="50"/><rect class="n" x="1320" y="868" width="25" height="84"/><rect class="v" x="1345" y="868" width="76" height="30"/><rect class="e" x="1345" y="898" width="30" height="54"/><rect class="v" x="1375" y="898" width="46" height="10"/><rect class="v" x="1375" y="908" width="7" height="44"/><rect class="c" x="1382" y="908" width="39" height="44"/><rect class="t" x="1037" y="868" width="384" height="84"/><text x="1050" y="920" font-size="28" class="i">Fringillidae</text></g>
<g id="thraupidae"><rect class="bg" x="567" y="952" width="854" height="58"/><rect class="a" x="1133" y="952" width="230" height="58"/><rect class="n" x="1363" y="952" width="58" height="20"/><rect class="n" x="1363" y="972" width="20" height="38"/><rect class="v" x="1383" y="972" width="12" height="38"/><rect class="w" x="1383" y="985" width="12" height="12"/><rect class="e" x="1395" y="972" width="26" height="25"/><rect class="c" x="1395" y="997" width="26" height="13"/><rect class="t" x="567" y="952" width="854" height="58"/><text x="955" y="988" font-size="27.8" class="i">Thraupidae</text></g>
<g id="furnariidae"><rect class="bg" x="567" y="1010" width="854" height="58"/><rect class="a" x="1030" y="1012" width="391" height="56"/><rect class="n" x="1383" y="1025" width="38" height="13"/><rect class="w" x="1395" y="1038" width="26" height="30"/><rect class="t" x="567" y="1010" width="854" height="58"/><text x="818" y="1050" font-size="28" class="i">Furnariidae</text></g>
<g id="emberizidae"><rect class="bg" x="567" y="1068" width="430" height="129"/><rect class="a" x="797" y="1068" width="200" height="129"/><rect x="785" y="1147" width="12" height="12" style="fill:#e8601c"/><rect class="c" x="785" y="1159" width="12" height="12"/><rect class="n" x="905" y="1097" width="92" height="13"/><rect class="v" x="920" y="1110" width="77" height="40"/><rect class="w" x="905" y="1122" width="13" height="13"/><rect class="v" x="905" y="1135" width="15" height="62"/><rect class="e" x="920" y="1135" width="25" height="62"/><rect class="e" x="960" y="1122" width="25" height="28"/><rect class="c" x="945" y="1150" width="52" height="47"/><rect class="t" x="567" y="1068" width="430" height="129"/><text x="588" y="1147" font-size="28" class="i">Emberizidae</text></g>
<g id="muscicapidae"><rect class="bg" x="997" y="1068" width="424" height="129"/><rect class="x" x="1105" y="1070" width="12" height="36"/><rect class="a" x="1117" y="1068" width="304" height="129"/><rect class="a" x="1105" y="1106" width="12" height="91"/><rect class="n" x="1350" y="1120" width="71" height="12"/><rect class="d" x="1350" y="1132" width="12" height="20"/><rect class="v" x="1362" y="1132" width="59" height="30"/><rect class="e" x="1350" y="1162" width="30" height="35"/><rect class="c" x="1380" y="1162" width="41" height="35"/><rect class="t" x="997" y="1068" width="424" height="129"/><text x="1160" y="1149" font-size="28.3" class="i">Muscicapidae</text></g>
<g id="tyrannidae"><rect class="bg" x="567" y="1197" width="854" height="81"/><rect class="a" x="1000" y="1199" width="421" height="79"/><rect class="n" x="1345" y="1210" width="20" height="25"/><rect class="w" x="1350" y="1212" width="12" height="12"/><rect class="v" x="1365" y="1199" width="56" height="25"/><rect class="e" x="1345" y="1235" width="30" height="43"/><rect class="v" x="1375" y="1224" width="46" height="20"/><rect class="c" x="1375" y="1244" width="46" height="34"/><rect class="t" x="567" y="1197" width="854" height="81"/><text x="820" y="1257" font-size="28" class="i">Tyrannidae</text></g>

<rect x="6" y="7" width="1415" height="1280" fill="none" stroke="#111" stroke-width="2"/>

<g id="order-labels">
<text x="8" y="170" font-size="17.6">Galbuliformes</text>
<text x="8" y="254" font-size="27">Craciformes</text>
<text x="10" y="340" font-size="35">Cuculiformes</text>
<text x="316" y="137" font-size="27">Coraciiformes</text>
<text x="314" y="240" font-size="24">Pelecaniformes</text>
<text x="321" y="319" font-size="22">Procellariiformes</text>
<text x="78" y="427" font-size="35">Gruiformes</text>
<text x="280" y="427" font-size="35">Anseriformes</text>
<text transform="rotate(-90 525 225)" x="525" y="225" class="m" font-size="23">Galliformes</text>
<text x="14" y="561" font-size="35">Columbiformes</text>
<text x="140" y="654" font-size="30">Strigiformes</text>
<text x="329" y="658" font-size="35">Accipitriformes</text>
<text x="178" y="832" font-size="35">Piciformes</text>
<text x="150" y="950" font-size="35">Psittaciformes</text>
<text x="66" y="1129" font-size="35">Apodiformes</text>
<text x="305" y="1211" font-size="35">Charadriiformes</text>
<text x="792" y="692" font-size="47">Passeriformes</text>
</g>
</svg>
